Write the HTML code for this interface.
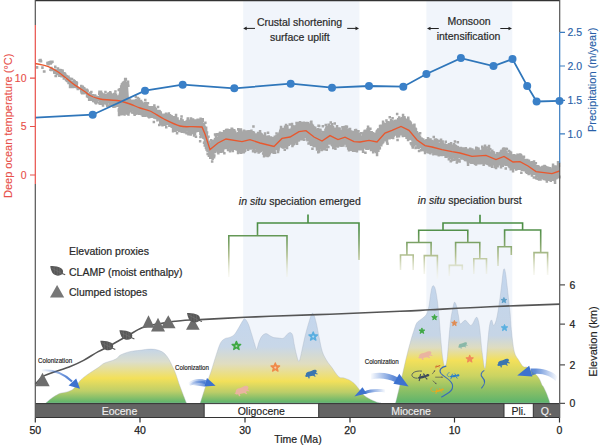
<!DOCTYPE html>
<html><head><meta charset="utf-8">
<style>
html,body{margin:0;padding:0;background:#fff;width:600px;height:447px;overflow:hidden}
svg{display:block}
text{font-family:"Liberation Sans",sans-serif}
</style></head><body>
<svg width="600" height="447" viewBox="0 0 600 447">
<defs>
<linearGradient id="gm1" x1="0" y1="348" x2="0" y2="403" gradientUnits="userSpaceOnUse">
<stop offset="0" stop-color="#c2d4ea"/><stop offset="0.25" stop-color="#dcdecc"/><stop offset="0.55" stop-color="#f3e05a"/><stop offset="0.78" stop-color="#bfcf68"/><stop offset="1" stop-color="#5cb36c"/>
</linearGradient>
<linearGradient id="gm2" x1="0" y1="312" x2="0" y2="403" gradientUnits="userSpaceOnUse">
<stop offset="0" stop-color="#c3d6ee"/><stop offset="0.38" stop-color="#c8d7e8"/><stop offset="0.57" stop-color="#e0ddc0"/><stop offset="0.76" stop-color="#f3e05a"/><stop offset="0.88" stop-color="#bccd68"/><stop offset="1" stop-color="#5cb36c"/>
</linearGradient>
<linearGradient id="gm3" x1="0" y1="268" x2="0" y2="403" gradientUnits="userSpaceOnUse">
<stop offset="0" stop-color="#c3d6ee"/><stop offset="0.5" stop-color="#c6d5e6"/><stop offset="0.59" stop-color="#dedcc0"/><stop offset="0.685" stop-color="#f3e05a"/><stop offset="0.8" stop-color="#cad362"/><stop offset="0.89" stop-color="#94c264"/><stop offset="1" stop-color="#5cb36c"/>
</linearGradient>
<linearGradient id="gd" x1="0" y1="214" x2="0" y2="278" gradientUnits="userSpaceOnUse">
<stop offset="0" stop-color="#3f8a3a"/><stop offset="0.25" stop-color="#52904a"/><stop offset="0.45" stop-color="#7ca266"/><stop offset="0.66" stop-color="#b6c294"/><stop offset="1" stop-color="#f4f2e4" stop-opacity="0.3"/>
</linearGradient>
<g id="leaf"><path d="M0 0C3 -0.4 8 0.2 11 2C13.4 3.5 13.4 6.8 11.5 8.4C9 10.1 5 9.6 3 7.6C1.5 6 0.5 3 0 0Z" fill="#575757"/><path d="M11.2 7L15 8.6" stroke="#575757" stroke-width="1.1"/><path d="M1.2 1.8L11.5 7.2M4 1L4.2 7.6M6.8 1.1L7.2 9M9.4 1.8L9.8 8.8" stroke="#7a7a7a" stroke-width="0.45" fill="none"/></g>
<path id="star" d="M0-4.4L1.2-1.5 4.3-1.3 1.9 0.8 2.7 3.8 0 2.1-2.7 3.8-1.9 0.8-4.3-1.3-1.2-1.5Z" stroke-linejoin="round" stroke-width="1.3"/>
<path id="frog" d="M1 4.5C1.5 3 3 2 5 2L7 1.2C8.5 0.2 10.5 0 11.5 0.8C12.3 1.5 12 2.8 11 3.3L13 4.3 12.6 5 10.5 4.6 9.8 5.6 11 6.8 10.2 7.3 8.4 6.2 6.5 6.6 4.6 7 5 8.8 3.8 9 3.2 7.2 1.5 7.5 0 6.5 1.2 5.6Z"/>
<linearGradient id="ga1" x1="41" y1="0" x2="80" y2="0" gradientUnits="userSpaceOnUse"><stop offset="0" stop-color="#3d72cf" stop-opacity="0"/><stop offset="0.6" stop-color="#3d72cf" stop-opacity="0.8"/><stop offset="1" stop-color="#3d72cf"/></linearGradient>
<linearGradient id="ga2" x1="188" y1="0" x2="216" y2="0" gradientUnits="userSpaceOnUse"><stop offset="0" stop-color="#3d72cf" stop-opacity="0"/><stop offset="0.7" stop-color="#3d72cf" stop-opacity="0.85"/><stop offset="1" stop-color="#3d72cf"/></linearGradient>
<linearGradient id="ga3" x1="370" y1="0" x2="409" y2="0" gradientUnits="userSpaceOnUse"><stop offset="0" stop-color="#3d72cf" stop-opacity="0"/><stop offset="0.6" stop-color="#3d72cf" stop-opacity="0.8"/><stop offset="1" stop-color="#3d72cf"/></linearGradient>
<linearGradient id="ga4" x1="386" y1="0" x2="354" y2="0" gradientUnits="userSpaceOnUse"><stop offset="0" stop-color="#3d72cf" stop-opacity="0"/><stop offset="0.6" stop-color="#3d72cf" stop-opacity="0.85"/><stop offset="1" stop-color="#3d72cf"/></linearGradient>
<linearGradient id="ga5" x1="558" y1="0" x2="517" y2="0" gradientUnits="userSpaceOnUse"><stop offset="0" stop-color="#3d72cf" stop-opacity="0"/><stop offset="0.55" stop-color="#3d72cf" stop-opacity="0.8"/><stop offset="1" stop-color="#3d72cf"/></linearGradient>
<g id="liz"><path d="M0 0C2 -1.2 6 -1.6 9 -1.1L10.8 -1.9C12.4 -2 13.2 -0.9 12.6 0C11.8 0.9 10.2 0.9 9 0.7C6 1.6 2 1.5 0 0Z" stroke="none"/><path d="M3 0.6L1.4 3.2M3 -0.6L4.4 -3.2M8.3 0.8L9.8 3.4M8.3 -0.9L7.2 -3.2" fill="none" stroke-width="1.1"/></g>
</defs>

<!-- shaded bands -->
<rect x="243.2" y="0" width="116.2" height="404" fill="#f1f5fb"/>
<rect x="426.4" y="0" width="85.9" height="404" fill="#f1f5fb"/>

<!-- temperature data -->
<path d="M99.0 92.3 100.0 92.1 101.0 92.2 102.0 93.4 103.0 94.2 104.0 94.6 105.0 94.1 106.0 94.5 107.0 93.6 108.0 93.3 109.0 92.1 110.0 91.8 111.0 93.3 112.0 93.8 113.0 94.5 114.0 93.9 115.0 93.8 116.0 94.9 117.0 96.1 118.0 96.4 119.0 92.2 120.0 89.3 121.0 88.3 122.0 84.0 123.0 83.3 124.0 80.9 125.0 79.1 126.0 79.4 127.0 83.5 128.0 83.7 129.0 99.6 130.0 100.5 131.0 101.1 132.0 101.1 133.0 101.9 134.0 101.6 135.0 101.2 136.0 102.0 137.0 102.5 138.0 101.9 139.0 103.2 140.0 104.1 141.0 104.1 142.0 105.1 143.0 105.2 144.0 104.5 145.0 104.9 146.0 105.0 147.0 104.9 148.0 104.9 149.0 105.8 150.0 106.9 151.0 108.0 152.0 108.7 153.0 109.1 154.0 110.2 155.0 110.8 156.0 111.6 157.0 111.4 158.0 112.0 159.0 112.5 160.0 112.2 161.0 112.9 162.0 114.1 163.0 114.6 164.0 114.5 165.0 115.7 166.0 115.8 167.0 116.1 168.0 116.4 169.0 116.3 170.0 117.3 171.0 118.2 172.0 118.4 173.0 119.0 174.0 118.8 175.0 118.7 176.0 119.0 177.0 120.2 178.0 120.9 179.0 122.0 180.0 122.5 181.0 121.5 182.0 120.9 183.0 120.6 184.0 121.5 185.0 122.2 186.0 121.9 187.0 121.4 188.0 121.4 189.0 122.4 190.0 121.7 191.0 121.5 192.0 122.3 193.0 122.6 194.0 121.7 195.0 122.2 196.0 121.9 197.0 122.7 198.0 122.0 199.0 122.8 200.0 119.3 201.0 120.2 202.0 121.3 203.0 122.0 204.0 124.6 205.0 127.3 206.0 129.6 207.0 133.7 208.0 137.5 209.0 141.0 210.0 144.6 211.0 143.5 212.0 141.9 213.0 141.1 214.0 140.0 215.0 137.5 216.0 136.8 217.0 137.2 218.0 136.7 219.0 134.9 220.0 134.6 221.0 133.7 222.0 134.1 223.0 133.8 224.0 132.0 225.0 131.3 226.0 129.7 227.0 130.1 228.0 130.6 229.0 131.1 230.0 131.5 231.0 131.1 232.0 130.3 233.0 131.0 234.0 130.7 235.0 132.4 236.0 133.7 237.0 134.5 238.0 133.2 239.0 134.1 240.0 133.4 241.0 132.5 242.0 133.7 243.0 133.7 244.0 131.9 245.0 133.0 246.0 132.6 247.0 133.1 248.0 131.9 249.0 131.6 250.0 132.7 251.0 132.2 252.0 133.6 253.0 132.6 254.0 133.9 255.0 135.1 256.0 135.3 257.0 135.1 258.0 134.1 259.0 135.4 260.0 135.2 261.0 136.4 262.0 135.7 263.0 136.9 264.0 136.3 265.0 137.5 266.0 138.3 267.0 137.9 268.0 137.5 269.0 138.1 270.0 137.9 271.0 138.9 272.0 139.8 273.0 139.8 274.0 138.6 275.0 137.5 276.0 136.8 277.0 136.3 278.0 134.3 279.0 134.1 280.0 131.6 281.0 130.0 282.0 129.6 283.0 130.0 284.0 129.4 285.0 129.8 286.0 129.1 287.0 129.4 288.0 130.4 289.0 130.9 290.0 130.7 291.0 130.5 292.0 128.0 293.0 127.9 294.0 127.5 295.0 127.4 296.0 126.8 297.0 124.4 298.0 124.6 299.0 124.3 300.0 125.2 301.0 124.4 302.0 124.6 303.0 125.1 304.0 125.2 305.0 125.3 306.0 124.6 307.0 124.3 308.0 124.1 309.0 124.3 310.0 125.6 311.0 125.2 312.0 125.9 313.0 128.5 314.0 128.1 315.0 128.3 316.0 130.2 317.0 130.6 318.0 130.2 319.0 130.7 320.0 131.0 321.0 132.6 322.0 134.0 323.0 133.9 324.0 132.4 325.0 131.1 326.0 130.3 327.0 128.8 328.0 128.4 329.0 127.5 330.0 126.5 331.0 128.5 332.0 128.2 333.0 128.2 334.0 129.0 335.0 129.8 336.0 129.7 337.0 130.1 338.0 131.9 339.0 130.8 340.0 130.4 341.0 131.4 342.0 130.2 343.0 129.4 344.0 129.2 345.0 129.0 346.0 128.5 347.0 128.1 348.0 130.7 349.0 130.3 350.0 131.2 351.0 132.6 352.0 133.6 353.0 134.6 354.0 133.3 355.0 132.6 356.0 132.0 357.0 133.4 358.0 133.6 359.0 135.1 360.0 134.8 361.0 135.2 362.0 134.9 363.0 135.5 364.0 133.6 365.0 132.1 366.0 131.2 367.0 132.0 368.0 130.8 369.0 131.6 370.0 132.7 371.0 133.9 372.0 134.2 373.0 134.5 374.0 134.1 375.0 134.3 376.0 133.2 377.0 133.2 378.0 131.2 379.0 130.1 380.0 129.0 381.0 127.8 382.0 127.9 383.0 125.8 384.0 125.3 385.0 125.0 386.0 123.3 387.0 123.0 388.0 122.9 389.0 123.8 390.0 124.0 391.0 123.3 392.0 121.6 393.0 121.6 394.0 122.1 395.0 121.8 396.0 121.7 397.0 120.6 398.0 119.3 399.0 119.2 400.0 119.1 401.0 119.7 402.0 118.4 403.0 119.0 404.0 118.7 405.0 120.2 406.0 121.0 407.0 120.2 408.0 120.2 409.0 122.6 410.0 122.6 411.0 123.9 412.0 125.7 413.0 126.1 414.0 126.5 415.0 129.4 416.0 130.6 417.0 134.2 418.0 135.0 419.0 136.1 420.0 137.7 421.0 138.7 422.0 138.8 423.0 140.0 424.0 140.2 425.0 141.5 426.0 141.3 427.0 141.5 428.0 141.3 429.0 141.8 430.0 141.1 431.0 140.8 432.0 141.9 433.0 141.4 434.0 142.4 435.0 142.7 436.0 143.2 437.0 143.1 438.0 143.9 439.0 144.3 440.0 144.1 441.0 143.8 442.0 144.3 443.0 143.8 444.0 143.9 445.0 145.0 446.0 145.7 447.0 145.8 448.0 146.4 449.0 146.1 450.0 146.9 451.0 147.3 452.0 147.8 453.0 148.3 454.0 147.2 455.0 146.9 456.0 146.4 457.0 147.5 458.0 147.3 459.0 147.3 460.0 147.9 461.0 148.8 462.0 149.3 463.0 148.5 464.0 148.1 465.0 149.1 466.0 149.0 467.0 150.3 468.0 150.7 469.0 151.4 470.0 150.3 471.0 150.8 472.0 150.6 473.0 151.6 474.0 150.5 475.0 150.1 476.0 150.7 477.0 149.8 478.0 150.5 479.0 150.9 480.0 151.7 481.0 150.3 482.0 149.4 483.0 150.3 484.0 149.3 485.0 149.8 486.0 150.0 487.0 149.6 488.0 149.8 489.0 150.1 490.0 150.8 491.0 152.0 492.0 151.9 493.0 153.2 494.0 154.1 495.0 155.2 496.0 155.4 497.0 153.8 498.0 153.9 499.0 154.1 500.0 152.9 501.0 152.9 502.0 152.1 503.0 151.1 504.0 150.5 505.0 150.7 506.0 151.6 507.0 152.1 508.0 153.5 509.0 154.9 510.0 155.1 511.0 155.8 512.0 156.3 513.0 156.2 514.0 155.4 515.0 155.9 516.0 155.4 517.0 156.7 518.0 157.3 519.0 156.0 520.0 155.2 521.0 155.5 522.0 157.1 523.0 156.9 524.0 157.7 525.0 159.1 526.0 160.3 527.0 161.1 528.0 161.0 529.0 162.5 530.0 162.5 531.0 163.4 532.0 163.4 533.0 165.0 534.0 165.6 535.0 165.8 536.0 167.1 537.0 167.1 538.0 167.3 539.0 167.5 540.0 167.6 541.0 166.8 542.0 167.3 543.0 166.9 544.0 168.1 545.0 168.1 546.0 168.2 547.0 168.1 548.0 169.0 549.0 168.4 550.0 169.1 551.0 169.1 552.0 169.5 553.0 168.7 554.0 168.8 555.0 167.5 556.0 167.6 557.0 166.3 558.0 166.1 559.0 165.1 L559.0 176.0 558.0 176.4 557.0 177.9 556.0 177.4 555.0 178.9 554.0 178.5 553.0 179.2 552.0 178.7 551.0 179.1 550.0 179.3 549.0 179.3 548.0 178.5 547.0 178.3 546.0 179.2 545.0 178.8 544.0 178.2 543.0 177.2 542.0 177.6 541.0 178.4 540.0 177.4 539.0 177.6 538.0 177.5 537.0 176.4 536.0 176.5 535.0 175.0 534.0 174.8 533.0 173.6 532.0 173.4 531.0 172.2 530.0 171.6 529.0 171.8 528.0 171.2 527.0 171.1 526.0 170.0 525.0 169.9 524.0 169.6 523.0 168.6 522.0 169.0 521.0 167.7 520.0 167.2 519.0 167.4 518.0 167.1 517.0 167.8 516.0 168.7 515.0 168.0 514.0 167.2 513.0 168.2 512.0 167.2 511.0 167.5 510.0 165.8 509.0 165.5 508.0 163.7 507.0 163.2 506.0 163.0 505.0 162.4 504.0 162.0 503.0 163.5 502.0 163.3 501.0 163.3 500.0 163.8 499.0 164.3 498.0 164.7 497.0 166.5 496.0 166.2 495.0 164.6 494.0 163.7 493.0 164.1 492.0 162.8 491.0 163.1 490.0 163.0 489.0 163.1 488.0 162.2 487.0 161.1 486.0 161.2 485.0 161.3 484.0 162.1 483.0 161.1 482.0 160.9 481.0 162.1 480.0 162.1 479.0 161.6 478.0 162.3 477.0 161.9 476.0 161.6 475.0 162.1 474.0 160.9 473.0 160.9 472.0 161.5 471.0 162.1 470.0 160.9 469.0 160.6 468.0 160.8 467.0 159.8 466.0 159.4 465.0 159.2 464.0 157.8 463.0 157.6 462.0 157.6 461.0 157.1 460.0 157.5 459.0 157.4 458.0 157.4 457.0 158.4 456.0 157.7 455.0 158.2 454.0 157.4 453.0 156.4 452.0 156.4 451.0 157.3 450.0 156.4 449.0 156.6 448.0 155.6 447.0 155.5 446.0 156.1 445.0 155.1 444.0 154.1 443.0 154.1 442.0 154.0 441.0 154.2 440.0 153.2 439.0 153.3 438.0 153.0 437.0 153.7 436.0 152.5 435.0 152.6 434.0 151.7 433.0 152.2 432.0 151.4 431.0 151.6 430.0 151.3 429.0 150.6 428.0 149.9 427.0 150.3 426.0 150.5 425.0 149.9 424.0 150.1 423.0 149.0 422.0 148.8 421.0 149.0 420.0 147.8 419.0 146.9 418.0 146.3 417.0 145.3 416.0 145.8 415.0 143.8 414.0 143.5 413.0 143.4 412.0 141.4 411.0 138.5 410.0 138.6 409.0 137.4 408.0 135.9 407.0 136.9 406.0 135.1 405.0 134.2 404.0 133.9 403.0 133.9 402.0 132.5 401.0 132.6 400.0 133.5 399.0 134.3 398.0 134.6 397.0 135.2 396.0 134.0 395.0 134.3 394.0 135.3 393.0 136.7 392.0 138.5 391.0 137.3 390.0 138.5 389.0 137.2 388.0 138.1 387.0 138.4 386.0 139.0 385.0 139.9 384.0 139.8 383.0 140.7 382.0 142.4 381.0 144.7 380.0 145.3 379.0 146.4 378.0 149.2 377.0 151.0 376.0 150.2 375.0 149.5 374.0 147.7 373.0 148.4 372.0 149.3 371.0 148.0 370.0 146.4 369.0 147.3 368.0 147.6 367.0 147.3 366.0 147.6 365.0 148.5 364.0 147.9 363.0 149.5 362.0 149.1 361.0 148.1 360.0 148.4 359.0 148.7 358.0 148.5 357.0 150.2 356.0 149.2 355.0 148.4 354.0 148.1 353.0 148.9 352.0 148.7 351.0 148.5 350.0 146.9 349.0 147.5 348.0 145.8 347.0 145.5 346.0 143.2 345.0 142.9 344.0 144.0 343.0 144.1 342.0 144.7 341.0 143.8 340.0 144.0 339.0 145.2 338.0 145.6 337.0 145.4 336.0 146.3 335.0 145.6 334.0 144.6 333.0 144.5 332.0 142.1 331.0 141.8 330.0 141.4 329.0 142.3 328.0 144.3 327.0 144.9 326.0 144.6 325.0 147.0 324.0 147.5 323.0 148.0 322.0 147.6 321.0 147.4 320.0 148.9 319.0 148.7 318.0 147.8 317.0 147.0 316.0 146.0 315.0 145.9 314.0 144.9 313.0 144.1 312.0 142.4 311.0 140.8 310.0 141.0 309.0 141.0 308.0 139.2 307.0 137.6 306.0 136.0 305.0 136.2 304.0 137.4 303.0 137.5 302.0 138.3 301.0 138.5 300.0 138.6 299.0 139.3 298.0 141.0 297.0 140.7 296.0 141.5 295.0 140.8 294.0 141.4 293.0 142.0 292.0 143.6 291.0 143.9 290.0 143.3 289.0 144.5 288.0 143.7 287.0 145.0 286.0 146.2 285.0 146.7 284.0 146.5 283.0 145.5 282.0 145.7 281.0 145.3 280.0 145.9 279.0 147.6 278.0 148.0 277.0 147.8 276.0 149.2 275.0 150.8 274.0 152.1 273.0 151.8 272.0 151.4 271.0 151.4 270.0 151.8 269.0 152.3 268.0 153.6 267.0 152.6 266.0 153.6 265.0 153.1 264.0 152.4 263.0 151.7 262.0 150.1 261.0 149.9 260.0 151.3 259.0 150.8 258.0 149.3 257.0 149.9 256.0 148.4 255.0 149.4 254.0 148.5 253.0 149.5 252.0 148.3 251.0 146.4 250.0 145.6 249.0 145.9 248.0 145.6 247.0 147.0 246.0 147.7 245.0 148.7 244.0 149.7 243.0 149.5 242.0 150.6 241.0 149.6 240.0 148.1 239.0 149.4 238.0 149.1 237.0 147.9 236.0 146.9 235.0 147.4 234.0 147.3 233.0 148.7 232.0 147.6 231.0 148.8 230.0 148.2 229.0 147.0 228.0 147.0 227.0 146.4 226.0 146.3 225.0 147.2 224.0 147.0 223.0 147.4 222.0 148.8 221.0 149.4 220.0 149.2 219.0 149.7 218.0 150.1 217.0 151.0 216.0 150.6 215.0 152.0 214.0 156.1 213.0 157.6 212.0 157.9 211.0 157.8 210.0 159.2 209.0 154.9 208.0 151.9 207.0 148.4 206.0 145.9 205.0 144.2 204.0 141.4 203.0 137.8 202.0 134.8 201.0 136.3 200.0 136.6 199.0 131.9 198.0 131.4 197.0 130.7 196.0 131.2 195.0 132.0 194.0 131.5 193.0 131.9 192.0 131.7 191.0 131.4 190.0 131.7 189.0 131.4 188.0 131.3 187.0 130.9 186.0 130.9 185.0 130.0 184.0 130.3 183.0 130.8 182.0 131.2 181.0 130.3 180.0 130.4 179.0 129.4 178.0 129.1 177.0 129.7 176.0 129.6 175.0 129.1 174.0 128.5 173.0 127.3 172.0 127.6 171.0 126.9 170.0 126.0 169.0 126.0 168.0 125.3 167.0 123.7 166.0 123.8 165.0 124.0 164.0 122.5 163.0 122.1 162.0 121.7 161.0 121.8 160.0 121.3 159.0 119.6 158.0 119.4 157.0 118.9 156.0 118.8 155.0 117.3 154.0 116.4 153.0 115.9 152.0 115.7 151.0 115.5 150.0 115.7 149.0 115.3 148.0 115.3 147.0 114.6 146.0 113.7 145.0 114.2 144.0 113.8 143.0 113.1 142.0 112.6 141.0 112.2 140.0 112.1 139.0 112.8 138.0 112.9 137.0 113.5 136.0 112.6 135.0 112.9 134.0 112.1 133.0 111.1 132.0 111.0 131.0 109.9 130.0 110.1 129.0 109.3 128.0 112.4 127.0 111.9 126.0 113.1 125.0 113.8 124.0 112.8 123.0 112.7 122.0 112.5 121.0 111.4 120.0 113.6 119.0 113.1 118.0 105.3 117.0 104.8 116.0 102.1 115.0 103.5 114.0 103.9 113.0 103.9 112.0 103.7 111.0 102.9 110.0 103.0 109.0 103.0 108.0 103.5 107.0 103.7 106.0 102.8 105.0 103.1 104.0 102.3 103.0 102.6 102.0 102.4 101.0 102.0 100.0 101.8 99.0 101.8ZM98.2 90.5h2.5v2.5h-2.5zM97.4 98.9h2.5v2.5h-2.5zM98.0 92.5h2.5v2.5h-2.5zM98.1 101.9h2.5v2.5h-2.5zM98.5 90.8h2.5v2.5h-2.5zM98.6 101.5h2.5v2.5h-2.5zM98.4 92.1h2.5v2.5h-2.5zM99.1 102.6h2.5v2.5h-2.5zM100.0 94.5h2.5v2.5h-2.5zM99.4 101.4h2.5v2.5h-2.5zM99.8 90.4h2.5v2.5h-2.5zM99.6 100.2h2.5v2.5h-2.5zM100.7 92.5h2.5v2.5h-2.5zM100.7 100.0h2.5v2.5h-2.5zM100.3 92.2h2.5v2.5h-2.5zM100.5 100.1h2.5v2.5h-2.5zM101.7 94.8h2.5v2.5h-2.5zM101.4 102.7h2.5v2.5h-2.5zM101.4 93.6h2.5v2.5h-2.5zM101.7 101.6h2.5v2.5h-2.5zM101.8 101.3h2.5v2.5h-2.5zM101.8 102.3h2.5v2.5h-2.5zM101.8 103.3h2.5v2.5h-2.5zM101.8 104.3h2.5v2.5h-2.5zM102.3 94.3h2.5v2.5h-2.5zM102.8 98.8h2.5v2.5h-2.5zM102.3 93.3h2.5v2.5h-2.5zM103.2 101.0h2.5v2.5h-2.5zM104.2 93.8h2.5v2.5h-2.5zM103.4 99.5h2.5v2.5h-2.5zM104.2 90.8h2.5v2.5h-2.5zM104.2 102.0h2.5v2.5h-2.5zM105.2 95.6h2.5v2.5h-2.5zM105.0 102.1h2.5v2.5h-2.5zM104.4 95.3h2.5v2.5h-2.5zM105.1 101.0h2.5v2.5h-2.5zM106.2 93.9h2.5v2.5h-2.5zM105.8 103.4h2.5v2.5h-2.5zM105.6 94.4h2.5v2.5h-2.5zM105.4 102.6h2.5v2.5h-2.5zM107.1 94.3h2.5v2.5h-2.5zM106.4 104.2h2.5v2.5h-2.5zM106.8 92.4h2.5v2.5h-2.5zM107.1 101.3h2.5v2.5h-2.5zM108.1 95.3h2.5v2.5h-2.5zM107.9 104.2h2.5v2.5h-2.5zM107.6 92.4h2.5v2.5h-2.5zM108.2 100.8h2.5v2.5h-2.5zM109.0 91.0h2.5v2.5h-2.5zM109.0 102.1h2.5v2.5h-2.5zM108.3 92.1h2.5v2.5h-2.5zM108.9 100.9h2.5v2.5h-2.5zM109.9 93.2h2.5v2.5h-2.5zM109.3 101.7h2.5v2.5h-2.5zM109.4 92.2h2.5v2.5h-2.5zM109.8 100.7h2.5v2.5h-2.5zM110.5 93.6h2.5v2.5h-2.5zM110.3 102.2h2.5v2.5h-2.5zM110.6 94.8h2.5v2.5h-2.5zM110.5 103.2h2.5v2.5h-2.5zM111.5 93.4h2.5v2.5h-2.5zM111.4 101.7h2.5v2.5h-2.5zM112.2 94.5h2.5v2.5h-2.5zM111.3 103.4h2.5v2.5h-2.5zM113.0 93.0h2.5v2.5h-2.5zM112.3 103.2h2.5v2.5h-2.5zM112.9 92.7h2.5v2.5h-2.5zM112.9 102.2h2.5v2.5h-2.5zM114.0 93.7h2.5v2.5h-2.5zM113.3 105.0h2.5v2.5h-2.5zM113.8 92.9h2.5v2.5h-2.5zM113.3 102.8h2.5v2.5h-2.5zM113.8 102.2h2.5v2.5h-2.5zM113.8 103.2h2.5v2.5h-2.5zM113.8 104.2h2.5v2.5h-2.5zM113.8 105.2h2.5v2.5h-2.5zM115.2 95.4h2.5v2.5h-2.5zM114.9 101.5h2.5v2.5h-2.5zM114.8 93.4h2.5v2.5h-2.5zM114.4 99.0h2.5v2.5h-2.5zM115.3 96.6h2.5v2.5h-2.5zM116.0 102.1h2.5v2.5h-2.5zM115.3 96.0h2.5v2.5h-2.5zM115.7 101.7h2.5v2.5h-2.5zM116.5 95.9h2.5v2.5h-2.5zM116.3 104.6h2.5v2.5h-2.5zM116.6 95.2h2.5v2.5h-2.5zM117.1 102.1h2.5v2.5h-2.5zM117.8 88.8h2.5v2.5h-2.5zM117.8 112.7h2.5v2.5h-2.5zM117.5 88.8h2.5v2.5h-2.5zM117.5 109.2h2.5v2.5h-2.5zM117.8 111.8h2.5v2.5h-2.5zM117.8 112.8h2.5v2.5h-2.5zM117.8 113.8h2.5v2.5h-2.5zM118.5 87.9h2.5v2.5h-2.5zM119.0 109.2h2.5v2.5h-2.5zM118.6 88.9h2.5v2.5h-2.5zM118.5 111.6h2.5v2.5h-2.5zM119.9 85.2h2.5v2.5h-2.5zM119.7 107.0h2.5v2.5h-2.5zM120.1 86.2h2.5v2.5h-2.5zM119.7 107.7h2.5v2.5h-2.5zM120.6 83.2h2.5v2.5h-2.5zM120.3 113.0h2.5v2.5h-2.5zM121.2 82.9h2.5v2.5h-2.5zM120.4 111.5h2.5v2.5h-2.5zM121.4 82.4h2.5v2.5h-2.5zM121.9 111.5h2.5v2.5h-2.5zM121.9 81.4h2.5v2.5h-2.5zM121.3 109.5h2.5v2.5h-2.5zM123.1 80.8h2.5v2.5h-2.5zM122.3 109.1h2.5v2.5h-2.5zM123.1 82.4h2.5v2.5h-2.5zM122.4 109.9h2.5v2.5h-2.5zM122.8 111.5h2.5v2.5h-2.5zM122.8 112.5h2.5v2.5h-2.5zM124.1 78.6h2.5v2.5h-2.5zM124.1 110.9h2.5v2.5h-2.5zM123.9 77.7h2.5v2.5h-2.5zM123.3 113.2h2.5v2.5h-2.5zM124.6 77.9h2.5v2.5h-2.5zM124.5 112.0h2.5v2.5h-2.5zM124.5 77.8h2.5v2.5h-2.5zM124.6 110.6h2.5v2.5h-2.5zM126.1 82.0h2.5v2.5h-2.5zM125.7 110.4h2.5v2.5h-2.5zM125.7 82.4h2.5v2.5h-2.5zM126.0 109.4h2.5v2.5h-2.5zM127.1 84.4h2.5v2.5h-2.5zM126.4 112.4h2.5v2.5h-2.5zM126.3 83.1h2.5v2.5h-2.5zM127.2 113.2h2.5v2.5h-2.5zM126.8 82.4h2.5v2.5h-2.5zM126.8 81.4h2.5v2.5h-2.5zM126.8 80.4h2.5v2.5h-2.5zM128.0 99.0h2.5v2.5h-2.5zM127.6 109.4h2.5v2.5h-2.5zM128.1 98.2h2.5v2.5h-2.5zM127.5 111.1h2.5v2.5h-2.5zM128.7 100.6h2.5v2.5h-2.5zM128.3 110.0h2.5v2.5h-2.5zM129.0 98.5h2.5v2.5h-2.5zM128.9 106.7h2.5v2.5h-2.5zM129.6 100.3h2.5v2.5h-2.5zM130.1 108.3h2.5v2.5h-2.5zM129.3 100.1h2.5v2.5h-2.5zM130.2 109.6h2.5v2.5h-2.5zM131.1 100.0h2.5v2.5h-2.5zM130.8 111.2h2.5v2.5h-2.5zM131.0 99.9h2.5v2.5h-2.5zM130.6 107.9h2.5v2.5h-2.5zM132.1 99.5h2.5v2.5h-2.5zM131.4 108.1h2.5v2.5h-2.5zM131.7 100.9h2.5v2.5h-2.5zM131.4 108.2h2.5v2.5h-2.5zM132.5 100.8h2.5v2.5h-2.5zM133.0 111.9h2.5v2.5h-2.5zM133.1 100.8h2.5v2.5h-2.5zM132.5 111.5h2.5v2.5h-2.5zM133.4 99.5h2.5v2.5h-2.5zM134.2 112.4h2.5v2.5h-2.5zM134.0 102.6h2.5v2.5h-2.5zM133.4 113.6h2.5v2.5h-2.5zM135.0 100.6h2.5v2.5h-2.5zM134.4 110.0h2.5v2.5h-2.5zM134.9 101.5h2.5v2.5h-2.5zM134.6 111.9h2.5v2.5h-2.5zM134.8 100.8h2.5v2.5h-2.5zM134.8 99.8h2.5v2.5h-2.5zM134.8 98.8h2.5v2.5h-2.5zM135.9 99.5h2.5v2.5h-2.5zM135.7 112.3h2.5v2.5h-2.5zM135.4 100.2h2.5v2.5h-2.5zM136.0 111.5h2.5v2.5h-2.5zM136.8 100.7h2.5v2.5h-2.5zM136.5 110.3h2.5v2.5h-2.5zM137.0 102.3h2.5v2.5h-2.5zM137.0 110.1h2.5v2.5h-2.5zM137.9 100.8h2.5v2.5h-2.5zM137.9 111.9h2.5v2.5h-2.5zM137.3 99.9h2.5v2.5h-2.5zM138.0 112.6h2.5v2.5h-2.5zM138.7 101.1h2.5v2.5h-2.5zM138.7 111.4h2.5v2.5h-2.5zM138.9 103.6h2.5v2.5h-2.5zM138.9 110.5h2.5v2.5h-2.5zM139.7 103.2h2.5v2.5h-2.5zM139.8 110.9h2.5v2.5h-2.5zM139.4 103.4h2.5v2.5h-2.5zM139.8 107.9h2.5v2.5h-2.5zM139.8 102.8h2.5v2.5h-2.5zM139.8 101.8h2.5v2.5h-2.5zM139.8 100.8h2.5v2.5h-2.5zM139.8 99.8h2.5v2.5h-2.5zM141.0 102.0h2.5v2.5h-2.5zM141.1 111.2h2.5v2.5h-2.5zM140.8 101.2h2.5v2.5h-2.5zM140.5 113.0h2.5v2.5h-2.5zM142.0 106.7h2.5v2.5h-2.5zM141.6 114.5h2.5v2.5h-2.5zM141.3 103.8h2.5v2.5h-2.5zM141.3 113.2h2.5v2.5h-2.5zM142.9 102.7h2.5v2.5h-2.5zM142.5 113.4h2.5v2.5h-2.5zM143.0 104.8h2.5v2.5h-2.5zM142.5 112.0h2.5v2.5h-2.5zM143.5 105.2h2.5v2.5h-2.5zM144.1 114.6h2.5v2.5h-2.5zM143.9 102.0h2.5v2.5h-2.5zM143.5 113.3h2.5v2.5h-2.5zM144.9 104.8h2.5v2.5h-2.5zM144.7 110.3h2.5v2.5h-2.5zM144.5 103.1h2.5v2.5h-2.5zM145.1 112.2h2.5v2.5h-2.5zM145.5 102.9h2.5v2.5h-2.5zM145.7 114.1h2.5v2.5h-2.5zM145.4 105.7h2.5v2.5h-2.5zM145.5 113.4h2.5v2.5h-2.5zM146.7 102.0h2.5v2.5h-2.5zM146.9 114.9h2.5v2.5h-2.5zM146.6 106.0h2.5v2.5h-2.5zM146.3 113.0h2.5v2.5h-2.5zM148.0 106.1h2.5v2.5h-2.5zM147.9 115.9h2.5v2.5h-2.5zM147.3 107.8h2.5v2.5h-2.5zM147.9 114.2h2.5v2.5h-2.5zM147.8 114.0h2.5v2.5h-2.5zM147.8 115.0h2.5v2.5h-2.5zM148.5 105.9h2.5v2.5h-2.5zM148.4 113.3h2.5v2.5h-2.5zM149.2 105.9h2.5v2.5h-2.5zM149.1 113.7h2.5v2.5h-2.5zM149.9 108.6h2.5v2.5h-2.5zM150.1 112.8h2.5v2.5h-2.5zM149.4 106.2h2.5v2.5h-2.5zM150.0 112.7h2.5v2.5h-2.5zM150.8 107.4h2.5v2.5h-2.5zM150.4 115.4h2.5v2.5h-2.5zM150.7 108.8h2.5v2.5h-2.5zM150.4 115.0h2.5v2.5h-2.5zM151.8 108.0h2.5v2.5h-2.5zM152.1 114.6h2.5v2.5h-2.5zM151.7 106.1h2.5v2.5h-2.5zM152.1 114.0h2.5v2.5h-2.5zM153.2 110.5h2.5v2.5h-2.5zM152.9 116.0h2.5v2.5h-2.5zM152.3 107.4h2.5v2.5h-2.5zM153.2 113.9h2.5v2.5h-2.5zM153.8 106.8h2.5v2.5h-2.5zM153.3 116.3h2.5v2.5h-2.5zM154.0 108.7h2.5v2.5h-2.5zM154.1 115.2h2.5v2.5h-2.5zM154.8 110.4h2.5v2.5h-2.5zM154.7 116.7h2.5v2.5h-2.5zM154.7 108.0h2.5v2.5h-2.5zM154.5 116.8h2.5v2.5h-2.5zM155.8 109.9h2.5v2.5h-2.5zM156.2 119.1h2.5v2.5h-2.5zM155.9 110.4h2.5v2.5h-2.5zM155.6 116.5h2.5v2.5h-2.5zM156.9 110.8h2.5v2.5h-2.5zM157.0 117.8h2.5v2.5h-2.5zM157.1 110.4h2.5v2.5h-2.5zM156.6 118.0h2.5v2.5h-2.5zM156.8 110.8h2.5v2.5h-2.5zM156.8 109.8h2.5v2.5h-2.5zM157.9 110.0h2.5v2.5h-2.5zM158.2 116.5h2.5v2.5h-2.5zM157.9 109.8h2.5v2.5h-2.5zM157.9 117.2h2.5v2.5h-2.5zM158.5 110.2h2.5v2.5h-2.5zM159.0 118.8h2.5v2.5h-2.5zM158.4 111.1h2.5v2.5h-2.5zM159.0 120.4h2.5v2.5h-2.5zM159.6 112.6h2.5v2.5h-2.5zM159.8 118.5h2.5v2.5h-2.5zM159.5 111.2h2.5v2.5h-2.5zM159.6 121.8h2.5v2.5h-2.5zM161.2 114.4h2.5v2.5h-2.5zM160.3 121.0h2.5v2.5h-2.5zM160.4 113.5h2.5v2.5h-2.5zM161.2 118.9h2.5v2.5h-2.5zM160.8 120.5h2.5v2.5h-2.5zM160.8 121.5h2.5v2.5h-2.5zM160.8 122.5h2.5v2.5h-2.5zM161.8 116.8h2.5v2.5h-2.5zM161.7 119.5h2.5v2.5h-2.5zM161.7 114.9h2.5v2.5h-2.5zM161.5 122.0h2.5v2.5h-2.5zM161.8 120.9h2.5v2.5h-2.5zM161.8 121.9h2.5v2.5h-2.5zM162.9 115.7h2.5v2.5h-2.5zM162.3 123.6h2.5v2.5h-2.5zM163.1 113.4h2.5v2.5h-2.5zM163.0 121.4h2.5v2.5h-2.5zM163.4 116.6h2.5v2.5h-2.5zM164.0 123.4h2.5v2.5h-2.5zM164.1 114.4h2.5v2.5h-2.5zM163.9 122.2h2.5v2.5h-2.5zM165.2 114.5h2.5v2.5h-2.5zM165.0 125.9h2.5v2.5h-2.5zM164.3 116.5h2.5v2.5h-2.5zM165.1 122.7h2.5v2.5h-2.5zM164.8 114.6h2.5v2.5h-2.5zM164.8 113.6h2.5v2.5h-2.5zM164.8 112.6h2.5v2.5h-2.5zM165.4 115.8h2.5v2.5h-2.5zM165.3 121.3h2.5v2.5h-2.5zM165.6 113.6h2.5v2.5h-2.5zM165.9 121.8h2.5v2.5h-2.5zM166.6 114.0h2.5v2.5h-2.5zM166.7 122.6h2.5v2.5h-2.5zM166.6 115.8h2.5v2.5h-2.5zM167.0 121.0h2.5v2.5h-2.5zM167.3 117.0h2.5v2.5h-2.5zM168.1 124.4h2.5v2.5h-2.5zM167.6 112.2h2.5v2.5h-2.5zM168.1 122.5h2.5v2.5h-2.5zM168.7 117.0h2.5v2.5h-2.5zM168.9 124.0h2.5v2.5h-2.5zM168.9 117.9h2.5v2.5h-2.5zM168.5 123.4h2.5v2.5h-2.5zM168.8 116.0h2.5v2.5h-2.5zM168.8 115.0h2.5v2.5h-2.5zM168.8 114.0h2.5v2.5h-2.5zM169.8 118.0h2.5v2.5h-2.5zM169.3 123.2h2.5v2.5h-2.5zM170.1 117.9h2.5v2.5h-2.5zM169.8 123.2h2.5v2.5h-2.5zM171.1 116.0h2.5v2.5h-2.5zM170.6 123.7h2.5v2.5h-2.5zM170.3 114.9h2.5v2.5h-2.5zM170.5 125.6h2.5v2.5h-2.5zM171.5 116.2h2.5v2.5h-2.5zM171.7 124.9h2.5v2.5h-2.5zM171.5 117.7h2.5v2.5h-2.5zM172.0 128.2h2.5v2.5h-2.5zM171.8 126.1h2.5v2.5h-2.5zM171.8 127.1h2.5v2.5h-2.5zM171.8 128.1h2.5v2.5h-2.5zM171.8 129.1h2.5v2.5h-2.5zM171.8 130.1h2.5v2.5h-2.5zM173.0 117.7h2.5v2.5h-2.5zM173.1 129.0h2.5v2.5h-2.5zM173.1 116.0h2.5v2.5h-2.5zM172.8 127.1h2.5v2.5h-2.5zM173.4 117.1h2.5v2.5h-2.5zM173.8 126.7h2.5v2.5h-2.5zM173.7 116.8h2.5v2.5h-2.5zM173.3 127.8h2.5v2.5h-2.5zM174.4 116.2h2.5v2.5h-2.5zM174.4 126.6h2.5v2.5h-2.5zM174.8 116.8h2.5v2.5h-2.5zM174.3 129.6h2.5v2.5h-2.5zM174.8 117.7h2.5v2.5h-2.5zM174.8 116.7h2.5v2.5h-2.5zM174.8 115.7h2.5v2.5h-2.5zM174.8 114.7h2.5v2.5h-2.5zM174.8 113.7h2.5v2.5h-2.5zM175.7 118.0h2.5v2.5h-2.5zM176.0 128.0h2.5v2.5h-2.5zM175.7 121.0h2.5v2.5h-2.5zM176.1 127.7h2.5v2.5h-2.5zM176.3 119.9h2.5v2.5h-2.5zM176.3 128.7h2.5v2.5h-2.5zM176.3 117.2h2.5v2.5h-2.5zM176.7 127.0h2.5v2.5h-2.5zM177.3 119.7h2.5v2.5h-2.5zM177.4 127.4h2.5v2.5h-2.5zM178.2 120.7h2.5v2.5h-2.5zM177.9 129.8h2.5v2.5h-2.5zM178.6 120.5h2.5v2.5h-2.5zM179.2 129.4h2.5v2.5h-2.5zM179.2 121.3h2.5v2.5h-2.5zM178.5 129.5h2.5v2.5h-2.5zM180.2 120.4h2.5v2.5h-2.5zM180.0 128.7h2.5v2.5h-2.5zM180.0 117.9h2.5v2.5h-2.5zM179.3 126.1h2.5v2.5h-2.5zM181.2 119.2h2.5v2.5h-2.5zM180.8 129.0h2.5v2.5h-2.5zM181.0 120.6h2.5v2.5h-2.5zM180.5 130.6h2.5v2.5h-2.5zM181.4 119.4h2.5v2.5h-2.5zM181.9 130.2h2.5v2.5h-2.5zM181.3 119.2h2.5v2.5h-2.5zM181.3 128.7h2.5v2.5h-2.5zM183.2 122.1h2.5v2.5h-2.5zM182.4 127.0h2.5v2.5h-2.5zM182.7 122.7h2.5v2.5h-2.5zM183.1 130.8h2.5v2.5h-2.5zM183.6 121.6h2.5v2.5h-2.5zM183.9 127.4h2.5v2.5h-2.5zM183.4 121.0h2.5v2.5h-2.5zM184.0 129.2h2.5v2.5h-2.5zM185.1 120.5h2.5v2.5h-2.5zM184.4 131.0h2.5v2.5h-2.5zM184.5 121.3h2.5v2.5h-2.5zM184.4 128.7h2.5v2.5h-2.5zM186.2 122.9h2.5v2.5h-2.5zM185.3 132.0h2.5v2.5h-2.5zM186.1 119.7h2.5v2.5h-2.5zM185.7 128.8h2.5v2.5h-2.5zM186.5 117.6h2.5v2.5h-2.5zM187.2 133.1h2.5v2.5h-2.5zM187.2 121.1h2.5v2.5h-2.5zM187.1 130.7h2.5v2.5h-2.5zM186.8 120.2h2.5v2.5h-2.5zM186.8 119.2h2.5v2.5h-2.5zM186.8 118.2h2.5v2.5h-2.5zM186.8 117.2h2.5v2.5h-2.5zM188.2 123.5h2.5v2.5h-2.5zM187.6 130.4h2.5v2.5h-2.5zM187.4 123.6h2.5v2.5h-2.5zM187.8 130.2h2.5v2.5h-2.5zM189.2 120.7h2.5v2.5h-2.5zM188.4 132.1h2.5v2.5h-2.5zM188.4 120.7h2.5v2.5h-2.5zM188.4 128.4h2.5v2.5h-2.5zM188.8 120.4h2.5v2.5h-2.5zM188.8 119.4h2.5v2.5h-2.5zM189.7 120.1h2.5v2.5h-2.5zM189.9 131.0h2.5v2.5h-2.5zM190.0 120.9h2.5v2.5h-2.5zM189.5 128.5h2.5v2.5h-2.5zM189.8 120.2h2.5v2.5h-2.5zM189.8 119.2h2.5v2.5h-2.5zM189.8 118.2h2.5v2.5h-2.5zM189.8 117.2h2.5v2.5h-2.5zM191.0 123.3h2.5v2.5h-2.5zM190.6 131.3h2.5v2.5h-2.5zM191.1 122.1h2.5v2.5h-2.5zM190.3 129.3h2.5v2.5h-2.5zM192.1 121.2h2.5v2.5h-2.5zM192.1 131.5h2.5v2.5h-2.5zM191.6 122.0h2.5v2.5h-2.5zM191.8 131.7h2.5v2.5h-2.5zM191.8 121.3h2.5v2.5h-2.5zM191.8 120.3h2.5v2.5h-2.5zM191.8 119.3h2.5v2.5h-2.5zM191.8 118.3h2.5v2.5h-2.5zM192.8 122.0h2.5v2.5h-2.5zM193.1 131.6h2.5v2.5h-2.5zM193.1 119.6h2.5v2.5h-2.5zM192.6 132.0h2.5v2.5h-2.5zM192.8 130.2h2.5v2.5h-2.5zM192.8 131.2h2.5v2.5h-2.5zM192.8 132.2h2.5v2.5h-2.5zM192.8 133.2h2.5v2.5h-2.5zM192.8 134.2h2.5v2.5h-2.5zM194.2 119.3h2.5v2.5h-2.5zM193.8 130.8h2.5v2.5h-2.5zM193.8 124.3h2.5v2.5h-2.5zM193.5 131.2h2.5v2.5h-2.5zM193.8 130.8h2.5v2.5h-2.5zM193.8 131.8h2.5v2.5h-2.5zM193.8 132.8h2.5v2.5h-2.5zM195.1 121.2h2.5v2.5h-2.5zM194.9 130.1h2.5v2.5h-2.5zM194.4 122.4h2.5v2.5h-2.5zM194.8 130.1h2.5v2.5h-2.5zM195.4 122.9h2.5v2.5h-2.5zM195.3 127.9h2.5v2.5h-2.5zM195.4 119.9h2.5v2.5h-2.5zM195.5 129.5h2.5v2.5h-2.5zM196.4 118.6h2.5v2.5h-2.5zM196.4 128.7h2.5v2.5h-2.5zM196.8 120.7h2.5v2.5h-2.5zM197.1 129.4h2.5v2.5h-2.5zM197.7 122.4h2.5v2.5h-2.5zM197.6 129.3h2.5v2.5h-2.5zM198.2 121.7h2.5v2.5h-2.5zM197.5 129.5h2.5v2.5h-2.5zM199.2 119.0h2.5v2.5h-2.5zM199.1 132.6h2.5v2.5h-2.5zM199.1 119.6h2.5v2.5h-2.5zM199.2 135.8h2.5v2.5h-2.5zM199.7 118.1h2.5v2.5h-2.5zM199.8 134.1h2.5v2.5h-2.5zM199.3 117.5h2.5v2.5h-2.5zM199.3 135.7h2.5v2.5h-2.5zM201.0 121.7h2.5v2.5h-2.5zM201.1 132.8h2.5v2.5h-2.5zM201.1 120.3h2.5v2.5h-2.5zM200.9 133.3h2.5v2.5h-2.5zM201.5 117.9h2.5v2.5h-2.5zM201.9 135.8h2.5v2.5h-2.5zM201.5 119.4h2.5v2.5h-2.5zM202.2 136.4h2.5v2.5h-2.5zM202.9 124.6h2.5v2.5h-2.5zM203.2 141.3h2.5v2.5h-2.5zM202.8 123.1h2.5v2.5h-2.5zM202.8 141.6h2.5v2.5h-2.5zM203.4 125.7h2.5v2.5h-2.5zM203.5 144.3h2.5v2.5h-2.5zM203.5 127.4h2.5v2.5h-2.5zM204.1 143.8h2.5v2.5h-2.5zM204.9 128.9h2.5v2.5h-2.5zM204.7 146.6h2.5v2.5h-2.5zM204.8 127.2h2.5v2.5h-2.5zM204.6 143.7h2.5v2.5h-2.5zM205.8 131.2h2.5v2.5h-2.5zM205.3 148.3h2.5v2.5h-2.5zM205.6 133.1h2.5v2.5h-2.5zM205.8 146.4h2.5v2.5h-2.5zM207.2 135.6h2.5v2.5h-2.5zM206.4 152.8h2.5v2.5h-2.5zM206.3 137.2h2.5v2.5h-2.5zM206.3 149.7h2.5v2.5h-2.5zM208.0 140.4h2.5v2.5h-2.5zM208.2 154.2h2.5v2.5h-2.5zM208.0 140.4h2.5v2.5h-2.5zM207.6 154.6h2.5v2.5h-2.5zM209.1 144.1h2.5v2.5h-2.5zM209.0 156.5h2.5v2.5h-2.5zM209.0 143.5h2.5v2.5h-2.5zM209.0 156.4h2.5v2.5h-2.5zM209.4 142.4h2.5v2.5h-2.5zM210.0 156.5h2.5v2.5h-2.5zM209.8 139.0h2.5v2.5h-2.5zM209.8 156.6h2.5v2.5h-2.5zM211.1 139.7h2.5v2.5h-2.5zM210.7 155.9h2.5v2.5h-2.5zM210.7 140.5h2.5v2.5h-2.5zM210.6 155.6h2.5v2.5h-2.5zM211.6 140.4h2.5v2.5h-2.5zM211.7 153.9h2.5v2.5h-2.5zM211.7 140.3h2.5v2.5h-2.5zM211.4 157.4h2.5v2.5h-2.5zM212.3 139.8h2.5v2.5h-2.5zM213.1 154.3h2.5v2.5h-2.5zM213.1 139.6h2.5v2.5h-2.5zM212.7 154.7h2.5v2.5h-2.5zM212.8 154.9h2.5v2.5h-2.5zM212.8 155.9h2.5v2.5h-2.5zM213.8 133.3h2.5v2.5h-2.5zM214.0 150.8h2.5v2.5h-2.5zM213.8 137.8h2.5v2.5h-2.5zM213.8 150.8h2.5v2.5h-2.5zM214.6 134.5h2.5v2.5h-2.5zM215.2 148.7h2.5v2.5h-2.5zM214.9 135.0h2.5v2.5h-2.5zM214.6 149.2h2.5v2.5h-2.5zM215.8 138.4h2.5v2.5h-2.5zM215.7 147.5h2.5v2.5h-2.5zM215.7 132.9h2.5v2.5h-2.5zM215.6 146.7h2.5v2.5h-2.5zM216.4 133.9h2.5v2.5h-2.5zM217.1 152.1h2.5v2.5h-2.5zM216.8 137.5h2.5v2.5h-2.5zM216.9 150.6h2.5v2.5h-2.5zM218.1 132.9h2.5v2.5h-2.5zM217.5 148.9h2.5v2.5h-2.5zM217.8 132.8h2.5v2.5h-2.5zM217.4 148.5h2.5v2.5h-2.5zM218.6 135.2h2.5v2.5h-2.5zM218.3 147.9h2.5v2.5h-2.5zM218.7 133.6h2.5v2.5h-2.5zM218.9 146.9h2.5v2.5h-2.5zM218.8 133.4h2.5v2.5h-2.5zM218.8 132.4h2.5v2.5h-2.5zM218.8 131.4h2.5v2.5h-2.5zM219.8 132.0h2.5v2.5h-2.5zM219.7 147.4h2.5v2.5h-2.5zM219.8 132.3h2.5v2.5h-2.5zM219.8 150.1h2.5v2.5h-2.5zM220.7 133.4h2.5v2.5h-2.5zM221.0 148.0h2.5v2.5h-2.5zM220.4 133.5h2.5v2.5h-2.5zM220.8 148.0h2.5v2.5h-2.5zM222.1 132.7h2.5v2.5h-2.5zM222.0 146.2h2.5v2.5h-2.5zM221.6 132.3h2.5v2.5h-2.5zM221.4 145.0h2.5v2.5h-2.5zM221.8 146.2h2.5v2.5h-2.5zM221.8 147.2h2.5v2.5h-2.5zM221.8 148.2h2.5v2.5h-2.5zM221.8 149.2h2.5v2.5h-2.5zM221.8 150.2h2.5v2.5h-2.5zM222.8 129.9h2.5v2.5h-2.5zM222.6 146.9h2.5v2.5h-2.5zM222.3 132.1h2.5v2.5h-2.5zM223.2 144.7h2.5v2.5h-2.5zM223.5 132.9h2.5v2.5h-2.5zM224.1 146.8h2.5v2.5h-2.5zM223.6 132.0h2.5v2.5h-2.5zM223.6 144.6h2.5v2.5h-2.5zM224.7 129.4h2.5v2.5h-2.5zM224.6 144.8h2.5v2.5h-2.5zM225.0 128.7h2.5v2.5h-2.5zM225.1 146.2h2.5v2.5h-2.5zM225.5 129.4h2.5v2.5h-2.5zM225.4 146.3h2.5v2.5h-2.5zM226.2 128.4h2.5v2.5h-2.5zM225.4 146.8h2.5v2.5h-2.5zM226.7 130.0h2.5v2.5h-2.5zM227.1 146.0h2.5v2.5h-2.5zM226.6 129.4h2.5v2.5h-2.5zM226.5 146.6h2.5v2.5h-2.5zM226.8 145.8h2.5v2.5h-2.5zM226.8 146.8h2.5v2.5h-2.5zM226.8 147.8h2.5v2.5h-2.5zM226.8 148.8h2.5v2.5h-2.5zM227.6 131.0h2.5v2.5h-2.5zM227.3 147.5h2.5v2.5h-2.5zM227.5 130.2h2.5v2.5h-2.5zM227.7 145.2h2.5v2.5h-2.5zM228.4 129.0h2.5v2.5h-2.5zM228.6 148.6h2.5v2.5h-2.5zM229.2 131.0h2.5v2.5h-2.5zM228.8 150.0h2.5v2.5h-2.5zM229.4 129.6h2.5v2.5h-2.5zM230.1 146.6h2.5v2.5h-2.5zM229.8 129.2h2.5v2.5h-2.5zM229.9 148.3h2.5v2.5h-2.5zM230.4 127.5h2.5v2.5h-2.5zM230.5 146.2h2.5v2.5h-2.5zM231.0 127.7h2.5v2.5h-2.5zM230.8 147.6h2.5v2.5h-2.5zM231.3 130.8h2.5v2.5h-2.5zM231.6 149.7h2.5v2.5h-2.5zM231.9 131.0h2.5v2.5h-2.5zM231.6 148.5h2.5v2.5h-2.5zM232.3 129.1h2.5v2.5h-2.5zM232.4 146.9h2.5v2.5h-2.5zM233.0 129.1h2.5v2.5h-2.5zM233.2 147.4h2.5v2.5h-2.5zM234.1 131.9h2.5v2.5h-2.5zM233.3 146.9h2.5v2.5h-2.5zM233.9 130.6h2.5v2.5h-2.5zM233.7 145.1h2.5v2.5h-2.5zM234.5 133.1h2.5v2.5h-2.5zM234.9 144.7h2.5v2.5h-2.5zM234.4 134.6h2.5v2.5h-2.5zM235.0 147.6h2.5v2.5h-2.5zM234.8 145.7h2.5v2.5h-2.5zM234.8 146.7h2.5v2.5h-2.5zM235.4 133.6h2.5v2.5h-2.5zM235.6 147.6h2.5v2.5h-2.5zM235.3 132.6h2.5v2.5h-2.5zM235.4 148.3h2.5v2.5h-2.5zM237.0 131.9h2.5v2.5h-2.5zM236.9 149.2h2.5v2.5h-2.5zM236.6 134.4h2.5v2.5h-2.5zM237.0 147.8h2.5v2.5h-2.5zM236.8 147.8h2.5v2.5h-2.5zM236.8 148.8h2.5v2.5h-2.5zM236.8 149.8h2.5v2.5h-2.5zM236.8 150.8h2.5v2.5h-2.5zM236.8 151.8h2.5v2.5h-2.5zM237.9 133.8h2.5v2.5h-2.5zM237.4 148.4h2.5v2.5h-2.5zM238.0 133.6h2.5v2.5h-2.5zM238.0 151.0h2.5v2.5h-2.5zM237.8 132.9h2.5v2.5h-2.5zM237.8 131.9h2.5v2.5h-2.5zM237.8 130.9h2.5v2.5h-2.5zM237.8 129.9h2.5v2.5h-2.5zM239.0 132.7h2.5v2.5h-2.5zM238.3 146.0h2.5v2.5h-2.5zM239.2 129.5h2.5v2.5h-2.5zM238.9 148.3h2.5v2.5h-2.5zM239.9 130.8h2.5v2.5h-2.5zM239.9 148.5h2.5v2.5h-2.5zM239.7 128.2h2.5v2.5h-2.5zM239.4 148.2h2.5v2.5h-2.5zM239.8 148.4h2.5v2.5h-2.5zM239.8 149.4h2.5v2.5h-2.5zM239.8 150.4h2.5v2.5h-2.5zM239.8 151.4h2.5v2.5h-2.5zM241.1 132.4h2.5v2.5h-2.5zM241.2 150.9h2.5v2.5h-2.5zM240.9 131.5h2.5v2.5h-2.5zM240.3 149.0h2.5v2.5h-2.5zM241.5 132.1h2.5v2.5h-2.5zM242.0 148.9h2.5v2.5h-2.5zM241.9 132.5h2.5v2.5h-2.5zM241.8 149.3h2.5v2.5h-2.5zM242.6 129.9h2.5v2.5h-2.5zM242.4 151.1h2.5v2.5h-2.5zM242.8 129.5h2.5v2.5h-2.5zM242.8 150.6h2.5v2.5h-2.5zM243.9 130.6h2.5v2.5h-2.5zM244.0 146.6h2.5v2.5h-2.5zM244.1 132.6h2.5v2.5h-2.5zM243.6 148.1h2.5v2.5h-2.5zM243.8 147.4h2.5v2.5h-2.5zM243.8 148.4h2.5v2.5h-2.5zM243.8 149.4h2.5v2.5h-2.5zM244.4 130.9h2.5v2.5h-2.5zM244.4 145.1h2.5v2.5h-2.5zM244.6 130.2h2.5v2.5h-2.5zM244.4 146.7h2.5v2.5h-2.5zM244.8 131.4h2.5v2.5h-2.5zM244.8 130.4h2.5v2.5h-2.5zM246.0 133.7h2.5v2.5h-2.5zM246.2 146.8h2.5v2.5h-2.5zM245.8 133.0h2.5v2.5h-2.5zM245.7 146.7h2.5v2.5h-2.5zM246.3 132.3h2.5v2.5h-2.5zM246.9 143.5h2.5v2.5h-2.5zM247.2 130.1h2.5v2.5h-2.5zM246.5 143.6h2.5v2.5h-2.5zM246.8 144.4h2.5v2.5h-2.5zM246.8 145.4h2.5v2.5h-2.5zM246.8 146.4h2.5v2.5h-2.5zM246.8 147.4h2.5v2.5h-2.5zM246.8 148.4h2.5v2.5h-2.5zM248.1 130.1h2.5v2.5h-2.5zM247.9 145.4h2.5v2.5h-2.5zM248.1 131.0h2.5v2.5h-2.5zM248.0 144.3h2.5v2.5h-2.5zM248.6 132.4h2.5v2.5h-2.5zM248.6 146.6h2.5v2.5h-2.5zM248.6 130.2h2.5v2.5h-2.5zM249.1 144.0h2.5v2.5h-2.5zM248.8 144.3h2.5v2.5h-2.5zM248.8 145.3h2.5v2.5h-2.5zM248.8 146.3h2.5v2.5h-2.5zM248.8 147.3h2.5v2.5h-2.5zM249.9 131.8h2.5v2.5h-2.5zM250.2 143.3h2.5v2.5h-2.5zM250.2 129.4h2.5v2.5h-2.5zM249.4 145.2h2.5v2.5h-2.5zM250.3 132.0h2.5v2.5h-2.5zM250.7 146.3h2.5v2.5h-2.5zM251.2 132.6h2.5v2.5h-2.5zM250.7 147.2h2.5v2.5h-2.5zM251.3 132.7h2.5v2.5h-2.5zM252.0 146.1h2.5v2.5h-2.5zM251.7 130.9h2.5v2.5h-2.5zM251.8 150.1h2.5v2.5h-2.5zM252.7 131.5h2.5v2.5h-2.5zM253.2 145.2h2.5v2.5h-2.5zM252.4 132.3h2.5v2.5h-2.5zM252.8 148.6h2.5v2.5h-2.5zM253.3 133.2h2.5v2.5h-2.5zM254.2 149.5h2.5v2.5h-2.5zM254.2 136.2h2.5v2.5h-2.5zM254.2 145.5h2.5v2.5h-2.5zM254.3 133.2h2.5v2.5h-2.5zM254.5 145.5h2.5v2.5h-2.5zM254.8 135.5h2.5v2.5h-2.5zM254.9 146.7h2.5v2.5h-2.5zM256.1 134.7h2.5v2.5h-2.5zM255.9 148.8h2.5v2.5h-2.5zM255.7 135.5h2.5v2.5h-2.5zM255.6 149.7h2.5v2.5h-2.5zM256.8 131.7h2.5v2.5h-2.5zM256.4 147.5h2.5v2.5h-2.5zM256.4 134.1h2.5v2.5h-2.5zM256.4 147.0h2.5v2.5h-2.5zM257.3 133.2h2.5v2.5h-2.5zM257.7 149.4h2.5v2.5h-2.5zM257.8 134.4h2.5v2.5h-2.5zM257.4 151.2h2.5v2.5h-2.5zM258.3 133.6h2.5v2.5h-2.5zM258.7 150.3h2.5v2.5h-2.5zM259.1 132.0h2.5v2.5h-2.5zM259.0 149.4h2.5v2.5h-2.5zM258.8 134.0h2.5v2.5h-2.5zM258.8 133.0h2.5v2.5h-2.5zM258.8 132.0h2.5v2.5h-2.5zM258.8 131.0h2.5v2.5h-2.5zM258.8 130.0h2.5v2.5h-2.5zM259.4 135.8h2.5v2.5h-2.5zM259.4 147.5h2.5v2.5h-2.5zM260.2 133.1h2.5v2.5h-2.5zM259.4 147.7h2.5v2.5h-2.5zM259.8 148.6h2.5v2.5h-2.5zM259.8 149.6h2.5v2.5h-2.5zM260.6 136.1h2.5v2.5h-2.5zM260.5 149.0h2.5v2.5h-2.5zM260.5 134.0h2.5v2.5h-2.5zM261.1 147.5h2.5v2.5h-2.5zM261.8 138.0h2.5v2.5h-2.5zM261.4 149.1h2.5v2.5h-2.5zM262.0 134.5h2.5v2.5h-2.5zM261.9 152.3h2.5v2.5h-2.5zM262.6 134.8h2.5v2.5h-2.5zM263.0 148.0h2.5v2.5h-2.5zM262.3 134.6h2.5v2.5h-2.5zM262.8 150.8h2.5v2.5h-2.5zM262.8 151.1h2.5v2.5h-2.5zM262.8 152.1h2.5v2.5h-2.5zM262.8 153.1h2.5v2.5h-2.5zM262.8 154.1h2.5v2.5h-2.5zM262.8 155.1h2.5v2.5h-2.5zM263.9 136.2h2.5v2.5h-2.5zM263.7 152.7h2.5v2.5h-2.5zM264.1 135.7h2.5v2.5h-2.5zM263.3 151.5h2.5v2.5h-2.5zM263.8 136.2h2.5v2.5h-2.5zM263.8 135.2h2.5v2.5h-2.5zM263.8 134.2h2.5v2.5h-2.5zM263.8 133.2h2.5v2.5h-2.5zM263.8 132.2h2.5v2.5h-2.5zM264.8 136.6h2.5v2.5h-2.5zM264.6 154.2h2.5v2.5h-2.5zM264.4 138.2h2.5v2.5h-2.5zM264.9 151.2h2.5v2.5h-2.5zM265.3 136.2h2.5v2.5h-2.5zM265.8 152.0h2.5v2.5h-2.5zM266.1 136.8h2.5v2.5h-2.5zM265.4 151.0h2.5v2.5h-2.5zM266.6 135.5h2.5v2.5h-2.5zM267.1 152.5h2.5v2.5h-2.5zM266.6 137.5h2.5v2.5h-2.5zM266.3 151.1h2.5v2.5h-2.5zM268.1 136.5h2.5v2.5h-2.5zM267.4 150.8h2.5v2.5h-2.5zM267.6 135.2h2.5v2.5h-2.5zM267.6 151.4h2.5v2.5h-2.5zM267.8 151.0h2.5v2.5h-2.5zM267.8 152.0h2.5v2.5h-2.5zM267.8 153.0h2.5v2.5h-2.5zM267.8 154.0h2.5v2.5h-2.5zM268.6 138.0h2.5v2.5h-2.5zM269.2 150.8h2.5v2.5h-2.5zM268.3 137.8h2.5v2.5h-2.5zM268.5 152.1h2.5v2.5h-2.5zM269.5 136.2h2.5v2.5h-2.5zM270.2 149.5h2.5v2.5h-2.5zM270.2 139.3h2.5v2.5h-2.5zM270.0 150.5h2.5v2.5h-2.5zM270.9 137.8h2.5v2.5h-2.5zM270.5 149.3h2.5v2.5h-2.5zM271.0 140.7h2.5v2.5h-2.5zM270.9 148.0h2.5v2.5h-2.5zM272.0 136.7h2.5v2.5h-2.5zM271.6 150.4h2.5v2.5h-2.5zM271.8 138.1h2.5v2.5h-2.5zM271.6 150.8h2.5v2.5h-2.5zM272.7 136.7h2.5v2.5h-2.5zM272.5 151.5h2.5v2.5h-2.5zM272.6 137.5h2.5v2.5h-2.5zM273.1 150.9h2.5v2.5h-2.5zM273.8 136.0h2.5v2.5h-2.5zM273.3 150.3h2.5v2.5h-2.5zM273.6 135.5h2.5v2.5h-2.5zM273.8 151.5h2.5v2.5h-2.5zM275.2 135.1h2.5v2.5h-2.5zM274.4 147.7h2.5v2.5h-2.5zM274.8 136.8h2.5v2.5h-2.5zM275.0 147.8h2.5v2.5h-2.5zM275.3 132.3h2.5v2.5h-2.5zM275.5 146.8h2.5v2.5h-2.5zM275.5 135.8h2.5v2.5h-2.5zM275.5 146.7h2.5v2.5h-2.5zM276.6 133.6h2.5v2.5h-2.5zM277.1 148.5h2.5v2.5h-2.5zM276.9 133.7h2.5v2.5h-2.5zM277.2 148.8h2.5v2.5h-2.5zM276.8 146.8h2.5v2.5h-2.5zM276.8 147.8h2.5v2.5h-2.5zM276.8 148.8h2.5v2.5h-2.5zM276.8 149.8h2.5v2.5h-2.5zM276.8 150.8h2.5v2.5h-2.5zM278.1 132.5h2.5v2.5h-2.5zM277.4 146.9h2.5v2.5h-2.5zM277.8 134.2h2.5v2.5h-2.5zM278.2 145.0h2.5v2.5h-2.5zM279.0 129.6h2.5v2.5h-2.5zM278.9 143.6h2.5v2.5h-2.5zM278.6 131.6h2.5v2.5h-2.5zM278.3 145.1h2.5v2.5h-2.5zM279.7 128.0h2.5v2.5h-2.5zM279.7 143.5h2.5v2.5h-2.5zM279.3 130.3h2.5v2.5h-2.5zM280.2 143.3h2.5v2.5h-2.5zM279.8 128.8h2.5v2.5h-2.5zM279.8 127.8h2.5v2.5h-2.5zM279.8 126.8h2.5v2.5h-2.5zM279.8 125.8h2.5v2.5h-2.5zM280.6 128.9h2.5v2.5h-2.5zM280.4 144.9h2.5v2.5h-2.5zM281.0 130.3h2.5v2.5h-2.5zM280.7 145.7h2.5v2.5h-2.5zM281.8 127.7h2.5v2.5h-2.5zM281.6 142.7h2.5v2.5h-2.5zM282.0 128.6h2.5v2.5h-2.5zM282.0 146.3h2.5v2.5h-2.5zM283.0 129.5h2.5v2.5h-2.5zM282.5 145.1h2.5v2.5h-2.5zM282.8 128.7h2.5v2.5h-2.5zM282.3 145.0h2.5v2.5h-2.5zM284.0 126.0h2.5v2.5h-2.5zM283.5 148.4h2.5v2.5h-2.5zM284.0 128.8h2.5v2.5h-2.5zM283.4 145.6h2.5v2.5h-2.5zM283.8 128.6h2.5v2.5h-2.5zM283.8 127.6h2.5v2.5h-2.5zM283.8 126.6h2.5v2.5h-2.5zM283.8 125.6h2.5v2.5h-2.5zM284.4 129.0h2.5v2.5h-2.5zM284.4 144.5h2.5v2.5h-2.5zM284.4 127.6h2.5v2.5h-2.5zM284.4 142.0h2.5v2.5h-2.5zM284.8 127.8h2.5v2.5h-2.5zM284.8 126.8h2.5v2.5h-2.5zM284.8 125.8h2.5v2.5h-2.5zM284.8 124.8h2.5v2.5h-2.5zM284.8 123.8h2.5v2.5h-2.5zM286.2 126.3h2.5v2.5h-2.5zM285.6 143.8h2.5v2.5h-2.5zM286.1 127.0h2.5v2.5h-2.5zM286.2 144.1h2.5v2.5h-2.5zM285.8 128.1h2.5v2.5h-2.5zM285.8 127.1h2.5v2.5h-2.5zM285.8 126.1h2.5v2.5h-2.5zM285.8 125.1h2.5v2.5h-2.5zM285.8 143.8h2.5v2.5h-2.5zM285.8 144.8h2.5v2.5h-2.5zM285.8 145.8h2.5v2.5h-2.5zM285.8 146.8h2.5v2.5h-2.5zM286.7 129.5h2.5v2.5h-2.5zM286.8 142.1h2.5v2.5h-2.5zM286.7 131.9h2.5v2.5h-2.5zM286.9 140.9h2.5v2.5h-2.5zM287.5 128.8h2.5v2.5h-2.5zM287.5 143.6h2.5v2.5h-2.5zM288.0 129.0h2.5v2.5h-2.5zM288.2 142.4h2.5v2.5h-2.5zM288.4 131.1h2.5v2.5h-2.5zM288.5 140.1h2.5v2.5h-2.5zM289.0 129.9h2.5v2.5h-2.5zM288.6 141.1h2.5v2.5h-2.5zM289.4 128.5h2.5v2.5h-2.5zM289.7 141.1h2.5v2.5h-2.5zM289.8 129.9h2.5v2.5h-2.5zM290.1 142.1h2.5v2.5h-2.5zM291.1 127.8h2.5v2.5h-2.5zM291.2 144.7h2.5v2.5h-2.5zM290.5 127.4h2.5v2.5h-2.5zM291.2 142.5h2.5v2.5h-2.5zM290.8 126.8h2.5v2.5h-2.5zM290.8 125.8h2.5v2.5h-2.5zM290.8 124.8h2.5v2.5h-2.5zM290.8 123.8h2.5v2.5h-2.5zM290.8 122.8h2.5v2.5h-2.5zM292.0 127.3h2.5v2.5h-2.5zM291.9 141.3h2.5v2.5h-2.5zM291.3 125.1h2.5v2.5h-2.5zM292.0 143.3h2.5v2.5h-2.5zM292.3 126.5h2.5v2.5h-2.5zM292.9 142.5h2.5v2.5h-2.5zM292.3 125.3h2.5v2.5h-2.5zM292.7 140.2h2.5v2.5h-2.5zM292.8 126.3h2.5v2.5h-2.5zM292.8 125.3h2.5v2.5h-2.5zM293.6 126.6h2.5v2.5h-2.5zM293.7 139.1h2.5v2.5h-2.5zM293.4 125.4h2.5v2.5h-2.5zM293.9 139.9h2.5v2.5h-2.5zM294.8 126.5h2.5v2.5h-2.5zM294.7 141.1h2.5v2.5h-2.5zM295.2 125.1h2.5v2.5h-2.5zM295.2 141.0h2.5v2.5h-2.5zM295.5 123.6h2.5v2.5h-2.5zM295.3 140.3h2.5v2.5h-2.5zM295.3 121.8h2.5v2.5h-2.5zM295.8 139.3h2.5v2.5h-2.5zM295.8 139.4h2.5v2.5h-2.5zM295.8 140.4h2.5v2.5h-2.5zM295.8 141.4h2.5v2.5h-2.5zM295.8 142.4h2.5v2.5h-2.5zM296.9 121.8h2.5v2.5h-2.5zM296.9 139.3h2.5v2.5h-2.5zM297.2 124.8h2.5v2.5h-2.5zM296.6 138.3h2.5v2.5h-2.5zM298.2 122.1h2.5v2.5h-2.5zM297.7 138.9h2.5v2.5h-2.5zM297.4 123.2h2.5v2.5h-2.5zM297.9 138.1h2.5v2.5h-2.5zM298.9 123.2h2.5v2.5h-2.5zM298.4 138.0h2.5v2.5h-2.5zM298.4 125.2h2.5v2.5h-2.5zM299.2 135.5h2.5v2.5h-2.5zM298.8 123.9h2.5v2.5h-2.5zM298.8 122.9h2.5v2.5h-2.5zM298.8 121.9h2.5v2.5h-2.5zM298.8 120.9h2.5v2.5h-2.5zM299.9 122.0h2.5v2.5h-2.5zM300.2 136.9h2.5v2.5h-2.5zM299.3 123.1h2.5v2.5h-2.5zM299.8 134.7h2.5v2.5h-2.5zM300.5 121.8h2.5v2.5h-2.5zM300.6 135.5h2.5v2.5h-2.5zM301.0 122.1h2.5v2.5h-2.5zM300.9 138.0h2.5v2.5h-2.5zM301.9 123.0h2.5v2.5h-2.5zM301.9 136.0h2.5v2.5h-2.5zM301.5 125.1h2.5v2.5h-2.5zM302.0 135.5h2.5v2.5h-2.5zM302.5 125.8h2.5v2.5h-2.5zM302.8 138.4h2.5v2.5h-2.5zM302.8 121.6h2.5v2.5h-2.5zM302.5 135.7h2.5v2.5h-2.5zM303.7 122.5h2.5v2.5h-2.5zM304.1 133.1h2.5v2.5h-2.5zM304.1 125.3h2.5v2.5h-2.5zM304.1 135.3h2.5v2.5h-2.5zM304.4 123.4h2.5v2.5h-2.5zM304.6 135.4h2.5v2.5h-2.5zM305.1 122.0h2.5v2.5h-2.5zM304.3 134.6h2.5v2.5h-2.5zM305.9 121.7h2.5v2.5h-2.5zM306.0 136.8h2.5v2.5h-2.5zM306.0 124.3h2.5v2.5h-2.5zM305.6 137.9h2.5v2.5h-2.5zM306.6 122.1h2.5v2.5h-2.5zM306.3 139.0h2.5v2.5h-2.5zM306.5 122.4h2.5v2.5h-2.5zM306.4 137.7h2.5v2.5h-2.5zM307.6 123.2h2.5v2.5h-2.5zM307.3 142.2h2.5v2.5h-2.5zM307.9 123.6h2.5v2.5h-2.5zM307.7 139.1h2.5v2.5h-2.5zM308.6 125.7h2.5v2.5h-2.5zM308.6 140.1h2.5v2.5h-2.5zM309.0 124.0h2.5v2.5h-2.5zM308.9 141.0h2.5v2.5h-2.5zM309.6 121.3h2.5v2.5h-2.5zM309.4 138.2h2.5v2.5h-2.5zM310.2 123.6h2.5v2.5h-2.5zM309.9 138.4h2.5v2.5h-2.5zM309.8 139.6h2.5v2.5h-2.5zM309.8 140.6h2.5v2.5h-2.5zM309.8 141.6h2.5v2.5h-2.5zM309.8 142.6h2.5v2.5h-2.5zM309.8 143.6h2.5v2.5h-2.5zM310.6 123.2h2.5v2.5h-2.5zM311.2 140.9h2.5v2.5h-2.5zM311.0 126.4h2.5v2.5h-2.5zM310.7 141.4h2.5v2.5h-2.5zM311.7 124.5h2.5v2.5h-2.5zM311.7 143.3h2.5v2.5h-2.5zM311.7 124.8h2.5v2.5h-2.5zM311.9 142.7h2.5v2.5h-2.5zM312.3 126.1h2.5v2.5h-2.5zM313.0 142.2h2.5v2.5h-2.5zM313.0 127.5h2.5v2.5h-2.5zM312.3 144.3h2.5v2.5h-2.5zM312.8 143.7h2.5v2.5h-2.5zM312.8 144.7h2.5v2.5h-2.5zM314.0 126.6h2.5v2.5h-2.5zM313.9 144.5h2.5v2.5h-2.5zM314.0 126.6h2.5v2.5h-2.5zM313.9 144.7h2.5v2.5h-2.5zM315.2 130.0h2.5v2.5h-2.5zM314.4 142.3h2.5v2.5h-2.5zM314.6 128.8h2.5v2.5h-2.5zM315.2 144.7h2.5v2.5h-2.5zM315.6 129.2h2.5v2.5h-2.5zM315.8 148.3h2.5v2.5h-2.5zM315.8 128.9h2.5v2.5h-2.5zM315.6 146.0h2.5v2.5h-2.5zM317.1 128.9h2.5v2.5h-2.5zM316.3 147.4h2.5v2.5h-2.5zM316.8 127.9h2.5v2.5h-2.5zM316.7 147.6h2.5v2.5h-2.5zM318.1 130.4h2.5v2.5h-2.5zM317.8 150.2h2.5v2.5h-2.5zM317.3 128.9h2.5v2.5h-2.5zM317.7 148.9h2.5v2.5h-2.5zM318.5 130.1h2.5v2.5h-2.5zM319.0 146.6h2.5v2.5h-2.5zM319.1 128.6h2.5v2.5h-2.5zM319.2 146.8h2.5v2.5h-2.5zM319.3 129.6h2.5v2.5h-2.5zM319.3 146.9h2.5v2.5h-2.5zM320.1 132.9h2.5v2.5h-2.5zM319.4 146.9h2.5v2.5h-2.5zM321.1 130.8h2.5v2.5h-2.5zM320.9 146.4h2.5v2.5h-2.5zM320.5 133.3h2.5v2.5h-2.5zM320.4 148.8h2.5v2.5h-2.5zM321.4 134.6h2.5v2.5h-2.5zM322.2 148.1h2.5v2.5h-2.5zM321.7 132.1h2.5v2.5h-2.5zM322.2 145.9h2.5v2.5h-2.5zM322.3 131.0h2.5v2.5h-2.5zM323.1 145.8h2.5v2.5h-2.5zM322.5 131.4h2.5v2.5h-2.5zM322.6 147.9h2.5v2.5h-2.5zM324.2 128.7h2.5v2.5h-2.5zM323.4 148.0h2.5v2.5h-2.5zM324.0 131.1h2.5v2.5h-2.5zM323.3 145.6h2.5v2.5h-2.5zM324.5 128.5h2.5v2.5h-2.5zM324.7 143.2h2.5v2.5h-2.5zM325.0 127.3h2.5v2.5h-2.5zM324.4 144.2h2.5v2.5h-2.5zM326.2 130.6h2.5v2.5h-2.5zM325.8 143.6h2.5v2.5h-2.5zM325.5 126.3h2.5v2.5h-2.5zM325.7 145.4h2.5v2.5h-2.5zM325.8 143.7h2.5v2.5h-2.5zM325.8 144.7h2.5v2.5h-2.5zM325.8 145.7h2.5v2.5h-2.5zM327.1 125.8h2.5v2.5h-2.5zM326.3 142.1h2.5v2.5h-2.5zM326.4 126.8h2.5v2.5h-2.5zM327.1 145.7h2.5v2.5h-2.5zM327.3 123.5h2.5v2.5h-2.5zM327.6 139.1h2.5v2.5h-2.5zM328.2 126.0h2.5v2.5h-2.5zM327.6 140.7h2.5v2.5h-2.5zM329.0 126.2h2.5v2.5h-2.5zM328.5 142.2h2.5v2.5h-2.5zM328.3 124.7h2.5v2.5h-2.5zM328.8 140.0h2.5v2.5h-2.5zM329.7 128.8h2.5v2.5h-2.5zM329.3 140.9h2.5v2.5h-2.5zM329.9 128.4h2.5v2.5h-2.5zM329.6 141.8h2.5v2.5h-2.5zM330.4 128.4h2.5v2.5h-2.5zM330.6 143.5h2.5v2.5h-2.5zM331.1 128.0h2.5v2.5h-2.5zM330.4 139.8h2.5v2.5h-2.5zM330.8 126.9h2.5v2.5h-2.5zM330.8 125.9h2.5v2.5h-2.5zM330.8 124.9h2.5v2.5h-2.5zM330.8 123.9h2.5v2.5h-2.5zM330.8 122.9h2.5v2.5h-2.5zM330.8 140.8h2.5v2.5h-2.5zM330.8 141.8h2.5v2.5h-2.5zM330.8 142.8h2.5v2.5h-2.5zM331.8 128.0h2.5v2.5h-2.5zM331.4 144.2h2.5v2.5h-2.5zM331.8 125.7h2.5v2.5h-2.5zM331.4 143.2h2.5v2.5h-2.5zM332.4 127.9h2.5v2.5h-2.5zM332.8 145.9h2.5v2.5h-2.5zM333.1 130.9h2.5v2.5h-2.5zM332.7 143.6h2.5v2.5h-2.5zM333.9 128.8h2.5v2.5h-2.5zM333.4 146.5h2.5v2.5h-2.5zM333.5 129.8h2.5v2.5h-2.5zM333.8 144.6h2.5v2.5h-2.5zM334.3 127.6h2.5v2.5h-2.5zM334.8 144.6h2.5v2.5h-2.5zM335.0 128.3h2.5v2.5h-2.5zM334.5 144.6h2.5v2.5h-2.5zM335.3 127.4h2.5v2.5h-2.5zM336.1 142.8h2.5v2.5h-2.5zM335.6 129.4h2.5v2.5h-2.5zM336.2 142.8h2.5v2.5h-2.5zM335.8 128.9h2.5v2.5h-2.5zM335.8 127.9h2.5v2.5h-2.5zM335.8 126.9h2.5v2.5h-2.5zM335.8 125.9h2.5v2.5h-2.5zM335.8 124.9h2.5v2.5h-2.5zM336.7 131.5h2.5v2.5h-2.5zM337.0 144.8h2.5v2.5h-2.5zM336.9 131.3h2.5v2.5h-2.5zM336.4 145.3h2.5v2.5h-2.5zM337.6 133.9h2.5v2.5h-2.5zM338.0 143.2h2.5v2.5h-2.5zM337.7 127.2h2.5v2.5h-2.5zM338.2 143.9h2.5v2.5h-2.5zM338.4 127.4h2.5v2.5h-2.5zM339.0 141.0h2.5v2.5h-2.5zM338.3 128.9h2.5v2.5h-2.5zM338.4 141.6h2.5v2.5h-2.5zM340.0 131.8h2.5v2.5h-2.5zM340.2 144.4h2.5v2.5h-2.5zM340.2 130.1h2.5v2.5h-2.5zM340.1 140.1h2.5v2.5h-2.5zM341.1 129.5h2.5v2.5h-2.5zM340.5 140.9h2.5v2.5h-2.5zM341.2 125.9h2.5v2.5h-2.5zM340.4 142.9h2.5v2.5h-2.5zM341.5 128.6h2.5v2.5h-2.5zM341.4 142.0h2.5v2.5h-2.5zM341.7 128.3h2.5v2.5h-2.5zM342.2 144.3h2.5v2.5h-2.5zM342.6 128.4h2.5v2.5h-2.5zM342.9 140.5h2.5v2.5h-2.5zM343.2 128.5h2.5v2.5h-2.5zM342.3 141.6h2.5v2.5h-2.5zM343.6 125.7h2.5v2.5h-2.5zM344.0 140.3h2.5v2.5h-2.5zM343.3 127.5h2.5v2.5h-2.5zM343.4 141.7h2.5v2.5h-2.5zM344.9 126.1h2.5v2.5h-2.5zM344.5 142.2h2.5v2.5h-2.5zM344.6 128.3h2.5v2.5h-2.5zM344.5 140.4h2.5v2.5h-2.5zM344.8 127.2h2.5v2.5h-2.5zM344.8 126.2h2.5v2.5h-2.5zM344.8 125.2h2.5v2.5h-2.5zM345.7 125.6h2.5v2.5h-2.5zM345.4 142.2h2.5v2.5h-2.5zM345.9 129.2h2.5v2.5h-2.5zM345.4 144.8h2.5v2.5h-2.5zM346.6 129.9h2.5v2.5h-2.5zM346.9 147.2h2.5v2.5h-2.5zM347.1 128.2h2.5v2.5h-2.5zM347.2 145.5h2.5v2.5h-2.5zM347.4 129.4h2.5v2.5h-2.5zM347.8 145.6h2.5v2.5h-2.5zM347.3 130.4h2.5v2.5h-2.5zM347.7 149.0h2.5v2.5h-2.5zM348.6 131.3h2.5v2.5h-2.5zM349.1 146.6h2.5v2.5h-2.5zM348.8 127.8h2.5v2.5h-2.5zM349.1 147.7h2.5v2.5h-2.5zM348.8 145.6h2.5v2.5h-2.5zM348.8 146.6h2.5v2.5h-2.5zM348.8 147.6h2.5v2.5h-2.5zM348.8 148.6h2.5v2.5h-2.5zM349.7 132.5h2.5v2.5h-2.5zM349.9 146.9h2.5v2.5h-2.5zM349.9 130.2h2.5v2.5h-2.5zM349.9 148.4h2.5v2.5h-2.5zM350.6 132.8h2.5v2.5h-2.5zM351.1 147.4h2.5v2.5h-2.5zM350.9 131.1h2.5v2.5h-2.5zM351.0 146.9h2.5v2.5h-2.5zM352.0 134.5h2.5v2.5h-2.5zM351.4 147.9h2.5v2.5h-2.5zM352.2 133.9h2.5v2.5h-2.5zM351.8 147.2h2.5v2.5h-2.5zM351.8 147.6h2.5v2.5h-2.5zM351.8 148.6h2.5v2.5h-2.5zM351.8 149.6h2.5v2.5h-2.5zM353.0 131.4h2.5v2.5h-2.5zM353.0 146.0h2.5v2.5h-2.5zM352.5 130.7h2.5v2.5h-2.5zM353.2 146.5h2.5v2.5h-2.5zM353.9 128.9h2.5v2.5h-2.5zM354.0 149.5h2.5v2.5h-2.5zM353.9 131.2h2.5v2.5h-2.5zM353.8 147.9h2.5v2.5h-2.5zM354.6 131.8h2.5v2.5h-2.5zM355.1 149.1h2.5v2.5h-2.5zM354.4 130.7h2.5v2.5h-2.5zM354.6 147.1h2.5v2.5h-2.5zM354.8 130.8h2.5v2.5h-2.5zM354.8 129.8h2.5v2.5h-2.5zM354.8 128.8h2.5v2.5h-2.5zM356.2 133.0h2.5v2.5h-2.5zM355.6 148.7h2.5v2.5h-2.5zM356.2 132.6h2.5v2.5h-2.5zM355.7 150.0h2.5v2.5h-2.5zM355.8 132.2h2.5v2.5h-2.5zM355.8 131.2h2.5v2.5h-2.5zM355.8 130.2h2.5v2.5h-2.5zM356.6 133.4h2.5v2.5h-2.5zM356.5 147.0h2.5v2.5h-2.5zM357.2 130.0h2.5v2.5h-2.5zM356.9 148.0h2.5v2.5h-2.5zM357.4 133.9h2.5v2.5h-2.5zM357.8 146.0h2.5v2.5h-2.5zM357.9 133.8h2.5v2.5h-2.5zM357.6 146.4h2.5v2.5h-2.5zM358.5 132.8h2.5v2.5h-2.5zM359.0 146.4h2.5v2.5h-2.5zM358.3 134.3h2.5v2.5h-2.5zM358.6 145.6h2.5v2.5h-2.5zM359.5 135.4h2.5v2.5h-2.5zM360.0 147.5h2.5v2.5h-2.5zM359.9 131.9h2.5v2.5h-2.5zM359.4 148.1h2.5v2.5h-2.5zM361.2 132.3h2.5v2.5h-2.5zM361.0 146.4h2.5v2.5h-2.5zM360.6 135.7h2.5v2.5h-2.5zM360.6 147.1h2.5v2.5h-2.5zM361.6 135.3h2.5v2.5h-2.5zM361.8 150.6h2.5v2.5h-2.5zM361.8 132.9h2.5v2.5h-2.5zM361.4 145.8h2.5v2.5h-2.5zM361.8 148.2h2.5v2.5h-2.5zM361.8 149.2h2.5v2.5h-2.5zM361.8 150.2h2.5v2.5h-2.5zM362.8 133.5h2.5v2.5h-2.5zM362.8 145.1h2.5v2.5h-2.5zM362.7 131.4h2.5v2.5h-2.5zM363.1 146.2h2.5v2.5h-2.5zM363.4 129.8h2.5v2.5h-2.5zM363.8 145.3h2.5v2.5h-2.5zM364.1 132.6h2.5v2.5h-2.5zM364.1 146.0h2.5v2.5h-2.5zM364.4 129.4h2.5v2.5h-2.5zM364.9 144.5h2.5v2.5h-2.5zM364.5 131.6h2.5v2.5h-2.5zM365.1 147.1h2.5v2.5h-2.5zM365.5 132.4h2.5v2.5h-2.5zM366.2 147.2h2.5v2.5h-2.5zM366.1 129.5h2.5v2.5h-2.5zM365.3 147.6h2.5v2.5h-2.5zM366.3 129.0h2.5v2.5h-2.5zM366.5 145.8h2.5v2.5h-2.5zM366.3 128.0h2.5v2.5h-2.5zM367.1 146.9h2.5v2.5h-2.5zM366.8 129.5h2.5v2.5h-2.5zM366.8 128.5h2.5v2.5h-2.5zM366.8 127.5h2.5v2.5h-2.5zM366.8 126.5h2.5v2.5h-2.5zM366.8 125.5h2.5v2.5h-2.5zM366.8 146.4h2.5v2.5h-2.5zM366.8 147.4h2.5v2.5h-2.5zM367.9 129.8h2.5v2.5h-2.5zM367.8 147.0h2.5v2.5h-2.5zM367.5 130.6h2.5v2.5h-2.5zM368.1 145.2h2.5v2.5h-2.5zM368.3 131.5h2.5v2.5h-2.5zM368.8 144.8h2.5v2.5h-2.5zM368.7 133.1h2.5v2.5h-2.5zM369.0 145.8h2.5v2.5h-2.5zM369.8 131.8h2.5v2.5h-2.5zM370.1 146.2h2.5v2.5h-2.5zM370.2 133.7h2.5v2.5h-2.5zM369.6 143.6h2.5v2.5h-2.5zM369.8 146.7h2.5v2.5h-2.5zM369.8 147.7h2.5v2.5h-2.5zM369.8 148.7h2.5v2.5h-2.5zM370.4 131.0h2.5v2.5h-2.5zM371.0 148.6h2.5v2.5h-2.5zM370.7 132.5h2.5v2.5h-2.5zM370.7 148.8h2.5v2.5h-2.5zM372.0 131.9h2.5v2.5h-2.5zM371.4 147.0h2.5v2.5h-2.5zM372.0 133.6h2.5v2.5h-2.5zM371.8 148.1h2.5v2.5h-2.5zM373.0 135.7h2.5v2.5h-2.5zM373.0 145.6h2.5v2.5h-2.5zM373.0 133.7h2.5v2.5h-2.5zM372.3 146.8h2.5v2.5h-2.5zM373.9 133.0h2.5v2.5h-2.5zM373.4 149.4h2.5v2.5h-2.5zM373.9 134.2h2.5v2.5h-2.5zM373.3 148.1h2.5v2.5h-2.5zM375.1 132.4h2.5v2.5h-2.5zM374.4 147.6h2.5v2.5h-2.5zM374.4 133.2h2.5v2.5h-2.5zM374.7 150.8h2.5v2.5h-2.5zM376.0 129.6h2.5v2.5h-2.5zM375.4 150.1h2.5v2.5h-2.5zM375.4 130.6h2.5v2.5h-2.5zM375.5 149.1h2.5v2.5h-2.5zM375.8 149.7h2.5v2.5h-2.5zM375.8 150.7h2.5v2.5h-2.5zM375.8 151.7h2.5v2.5h-2.5zM375.8 152.7h2.5v2.5h-2.5zM375.8 153.7h2.5v2.5h-2.5zM377.0 133.4h2.5v2.5h-2.5zM376.7 146.7h2.5v2.5h-2.5zM377.0 128.2h2.5v2.5h-2.5zM377.1 149.6h2.5v2.5h-2.5zM376.8 148.0h2.5v2.5h-2.5zM376.8 149.0h2.5v2.5h-2.5zM377.8 128.7h2.5v2.5h-2.5zM378.1 145.3h2.5v2.5h-2.5zM378.0 128.5h2.5v2.5h-2.5zM378.1 145.2h2.5v2.5h-2.5zM377.8 145.2h2.5v2.5h-2.5zM377.8 146.2h2.5v2.5h-2.5zM377.8 147.2h2.5v2.5h-2.5zM378.9 128.9h2.5v2.5h-2.5zM378.9 143.1h2.5v2.5h-2.5zM378.5 127.9h2.5v2.5h-2.5zM378.6 146.9h2.5v2.5h-2.5zM378.8 127.7h2.5v2.5h-2.5zM378.8 126.7h2.5v2.5h-2.5zM378.8 125.7h2.5v2.5h-2.5zM378.8 124.7h2.5v2.5h-2.5zM379.4 124.9h2.5v2.5h-2.5zM379.9 144.0h2.5v2.5h-2.5zM380.0 126.1h2.5v2.5h-2.5zM380.0 143.7h2.5v2.5h-2.5zM379.8 126.6h2.5v2.5h-2.5zM379.8 125.6h2.5v2.5h-2.5zM379.8 124.6h2.5v2.5h-2.5zM380.9 126.4h2.5v2.5h-2.5zM380.9 140.2h2.5v2.5h-2.5zM380.9 125.9h2.5v2.5h-2.5zM381.2 141.2h2.5v2.5h-2.5zM380.8 141.1h2.5v2.5h-2.5zM380.8 142.1h2.5v2.5h-2.5zM382.2 124.7h2.5v2.5h-2.5zM382.0 140.7h2.5v2.5h-2.5zM382.1 123.1h2.5v2.5h-2.5zM381.3 137.8h2.5v2.5h-2.5zM381.8 124.5h2.5v2.5h-2.5zM381.8 123.5h2.5v2.5h-2.5zM381.8 122.5h2.5v2.5h-2.5zM381.8 121.5h2.5v2.5h-2.5zM381.8 120.5h2.5v2.5h-2.5zM382.3 124.9h2.5v2.5h-2.5zM383.2 138.9h2.5v2.5h-2.5zM382.5 122.6h2.5v2.5h-2.5zM382.9 135.9h2.5v2.5h-2.5zM383.4 125.9h2.5v2.5h-2.5zM383.4 138.9h2.5v2.5h-2.5zM384.2 123.5h2.5v2.5h-2.5zM384.1 137.8h2.5v2.5h-2.5zM384.4 122.7h2.5v2.5h-2.5zM385.2 135.1h2.5v2.5h-2.5zM384.3 123.1h2.5v2.5h-2.5zM385.1 136.4h2.5v2.5h-2.5zM385.8 121.9h2.5v2.5h-2.5zM385.3 136.6h2.5v2.5h-2.5zM385.8 121.4h2.5v2.5h-2.5zM385.3 138.4h2.5v2.5h-2.5zM385.8 137.1h2.5v2.5h-2.5zM385.8 138.1h2.5v2.5h-2.5zM385.8 139.1h2.5v2.5h-2.5zM385.8 140.1h2.5v2.5h-2.5zM385.8 141.1h2.5v2.5h-2.5zM387.1 121.1h2.5v2.5h-2.5zM386.9 137.0h2.5v2.5h-2.5zM386.5 121.1h2.5v2.5h-2.5zM387.2 137.1h2.5v2.5h-2.5zM387.3 122.2h2.5v2.5h-2.5zM388.1 133.4h2.5v2.5h-2.5zM387.4 121.8h2.5v2.5h-2.5zM388.0 136.8h2.5v2.5h-2.5zM389.2 122.8h2.5v2.5h-2.5zM388.3 137.1h2.5v2.5h-2.5zM388.4 122.2h2.5v2.5h-2.5zM388.8 135.6h2.5v2.5h-2.5zM389.9 120.3h2.5v2.5h-2.5zM390.0 133.7h2.5v2.5h-2.5zM390.0 124.1h2.5v2.5h-2.5zM390.0 134.7h2.5v2.5h-2.5zM389.8 122.0h2.5v2.5h-2.5zM389.8 121.0h2.5v2.5h-2.5zM389.8 120.0h2.5v2.5h-2.5zM389.8 119.0h2.5v2.5h-2.5zM390.7 120.9h2.5v2.5h-2.5zM391.2 136.6h2.5v2.5h-2.5zM390.7 120.1h2.5v2.5h-2.5zM390.6 136.2h2.5v2.5h-2.5zM391.3 116.9h2.5v2.5h-2.5zM391.9 136.7h2.5v2.5h-2.5zM392.2 120.5h2.5v2.5h-2.5zM392.2 133.0h2.5v2.5h-2.5zM392.5 120.6h2.5v2.5h-2.5zM392.5 134.2h2.5v2.5h-2.5zM393.1 121.8h2.5v2.5h-2.5zM393.0 133.5h2.5v2.5h-2.5zM394.0 119.9h2.5v2.5h-2.5zM394.1 132.9h2.5v2.5h-2.5zM393.6 119.7h2.5v2.5h-2.5zM393.8 132.1h2.5v2.5h-2.5zM394.8 119.5h2.5v2.5h-2.5zM395.2 131.4h2.5v2.5h-2.5zM394.7 122.2h2.5v2.5h-2.5zM395.2 131.7h2.5v2.5h-2.5zM394.8 120.4h2.5v2.5h-2.5zM394.8 119.4h2.5v2.5h-2.5zM396.2 120.4h2.5v2.5h-2.5zM396.0 134.1h2.5v2.5h-2.5zM396.2 120.0h2.5v2.5h-2.5zM395.9 135.2h2.5v2.5h-2.5zM397.0 118.0h2.5v2.5h-2.5zM396.3 134.3h2.5v2.5h-2.5zM396.9 118.3h2.5v2.5h-2.5zM397.2 134.3h2.5v2.5h-2.5zM397.9 116.3h2.5v2.5h-2.5zM397.6 131.9h2.5v2.5h-2.5zM397.3 118.2h2.5v2.5h-2.5zM397.6 133.1h2.5v2.5h-2.5zM397.8 133.1h2.5v2.5h-2.5zM397.8 134.1h2.5v2.5h-2.5zM397.8 135.1h2.5v2.5h-2.5zM399.2 117.4h2.5v2.5h-2.5zM399.0 131.3h2.5v2.5h-2.5zM398.4 118.7h2.5v2.5h-2.5zM398.7 132.9h2.5v2.5h-2.5zM400.0 120.9h2.5v2.5h-2.5zM399.6 133.1h2.5v2.5h-2.5zM400.1 120.8h2.5v2.5h-2.5zM399.5 131.8h2.5v2.5h-2.5zM400.9 117.1h2.5v2.5h-2.5zM400.4 131.4h2.5v2.5h-2.5zM401.2 118.2h2.5v2.5h-2.5zM400.8 132.8h2.5v2.5h-2.5zM401.4 120.8h2.5v2.5h-2.5zM401.6 134.8h2.5v2.5h-2.5zM401.9 116.9h2.5v2.5h-2.5zM401.3 132.3h2.5v2.5h-2.5zM401.8 117.8h2.5v2.5h-2.5zM401.8 116.8h2.5v2.5h-2.5zM401.8 115.8h2.5v2.5h-2.5zM401.8 114.8h2.5v2.5h-2.5zM401.8 113.8h2.5v2.5h-2.5zM403.2 116.1h2.5v2.5h-2.5zM402.4 134.2h2.5v2.5h-2.5zM403.0 117.4h2.5v2.5h-2.5zM402.8 133.9h2.5v2.5h-2.5zM402.8 117.4h2.5v2.5h-2.5zM402.8 116.4h2.5v2.5h-2.5zM403.5 117.4h2.5v2.5h-2.5zM403.5 134.4h2.5v2.5h-2.5zM403.4 119.2h2.5v2.5h-2.5zM403.6 134.2h2.5v2.5h-2.5zM405.1 121.6h2.5v2.5h-2.5zM405.1 134.4h2.5v2.5h-2.5zM404.5 121.2h2.5v2.5h-2.5zM404.4 134.1h2.5v2.5h-2.5zM405.3 120.1h2.5v2.5h-2.5zM405.4 136.6h2.5v2.5h-2.5zM405.5 118.4h2.5v2.5h-2.5zM405.3 135.9h2.5v2.5h-2.5zM407.2 118.4h2.5v2.5h-2.5zM406.5 134.5h2.5v2.5h-2.5zM407.0 116.5h2.5v2.5h-2.5zM407.2 133.7h2.5v2.5h-2.5zM406.8 134.7h2.5v2.5h-2.5zM406.8 135.7h2.5v2.5h-2.5zM406.8 136.7h2.5v2.5h-2.5zM406.8 137.7h2.5v2.5h-2.5zM406.8 138.7h2.5v2.5h-2.5zM407.8 121.4h2.5v2.5h-2.5zM408.1 137.0h2.5v2.5h-2.5zM407.5 122.2h2.5v2.5h-2.5zM408.2 136.7h2.5v2.5h-2.5zM408.3 120.3h2.5v2.5h-2.5zM408.5 137.7h2.5v2.5h-2.5zM408.9 120.9h2.5v2.5h-2.5zM409.2 137.8h2.5v2.5h-2.5zM409.3 121.8h2.5v2.5h-2.5zM409.3 136.0h2.5v2.5h-2.5zM409.7 122.6h2.5v2.5h-2.5zM409.5 135.6h2.5v2.5h-2.5zM410.9 125.9h2.5v2.5h-2.5zM411.2 142.0h2.5v2.5h-2.5zM411.0 125.3h2.5v2.5h-2.5zM411.2 139.2h2.5v2.5h-2.5zM411.8 125.3h2.5v2.5h-2.5zM411.5 141.9h2.5v2.5h-2.5zM411.3 124.2h2.5v2.5h-2.5zM411.4 142.4h2.5v2.5h-2.5zM413.2 123.6h2.5v2.5h-2.5zM412.3 143.4h2.5v2.5h-2.5zM413.2 125.4h2.5v2.5h-2.5zM412.8 143.7h2.5v2.5h-2.5zM414.2 127.5h2.5v2.5h-2.5zM414.1 141.9h2.5v2.5h-2.5zM413.5 129.6h2.5v2.5h-2.5zM413.5 142.5h2.5v2.5h-2.5zM414.7 128.3h2.5v2.5h-2.5zM414.3 146.2h2.5v2.5h-2.5zM414.6 130.6h2.5v2.5h-2.5zM414.3 146.7h2.5v2.5h-2.5zM415.7 131.1h2.5v2.5h-2.5zM415.4 143.3h2.5v2.5h-2.5zM415.5 135.4h2.5v2.5h-2.5zM415.4 146.3h2.5v2.5h-2.5zM416.8 134.1h2.5v2.5h-2.5zM416.5 144.8h2.5v2.5h-2.5zM416.4 132.5h2.5v2.5h-2.5zM416.7 144.4h2.5v2.5h-2.5zM418.1 135.8h2.5v2.5h-2.5zM418.2 145.3h2.5v2.5h-2.5zM417.7 137.6h2.5v2.5h-2.5zM417.4 146.5h2.5v2.5h-2.5zM417.8 134.8h2.5v2.5h-2.5zM417.8 133.8h2.5v2.5h-2.5zM417.8 132.8h2.5v2.5h-2.5zM419.2 137.4h2.5v2.5h-2.5zM418.8 145.6h2.5v2.5h-2.5zM419.1 137.1h2.5v2.5h-2.5zM418.8 144.8h2.5v2.5h-2.5zM418.8 136.5h2.5v2.5h-2.5zM418.8 135.5h2.5v2.5h-2.5zM419.8 138.3h2.5v2.5h-2.5zM420.2 145.1h2.5v2.5h-2.5zM419.4 139.9h2.5v2.5h-2.5zM419.8 149.0h2.5v2.5h-2.5zM420.5 137.6h2.5v2.5h-2.5zM420.8 148.8h2.5v2.5h-2.5zM420.9 139.4h2.5v2.5h-2.5zM420.9 148.5h2.5v2.5h-2.5zM422.0 140.3h2.5v2.5h-2.5zM421.9 147.8h2.5v2.5h-2.5zM422.0 138.3h2.5v2.5h-2.5zM422.2 147.1h2.5v2.5h-2.5zM422.7 139.8h2.5v2.5h-2.5zM422.7 148.6h2.5v2.5h-2.5zM423.2 139.7h2.5v2.5h-2.5zM423.0 148.3h2.5v2.5h-2.5zM424.0 140.8h2.5v2.5h-2.5zM423.5 149.4h2.5v2.5h-2.5zM423.5 140.9h2.5v2.5h-2.5zM423.7 148.9h2.5v2.5h-2.5zM423.8 148.7h2.5v2.5h-2.5zM423.8 149.7h2.5v2.5h-2.5zM423.8 150.7h2.5v2.5h-2.5zM423.8 151.7h2.5v2.5h-2.5zM425.2 139.0h2.5v2.5h-2.5zM425.0 148.7h2.5v2.5h-2.5zM424.7 140.7h2.5v2.5h-2.5zM424.3 150.6h2.5v2.5h-2.5zM425.6 142.4h2.5v2.5h-2.5zM426.1 148.6h2.5v2.5h-2.5zM425.9 138.9h2.5v2.5h-2.5zM426.2 147.6h2.5v2.5h-2.5zM426.6 140.0h2.5v2.5h-2.5zM426.9 151.1h2.5v2.5h-2.5zM427.1 141.3h2.5v2.5h-2.5zM426.4 147.5h2.5v2.5h-2.5zM426.8 140.1h2.5v2.5h-2.5zM426.8 139.1h2.5v2.5h-2.5zM426.8 138.1h2.5v2.5h-2.5zM426.8 137.1h2.5v2.5h-2.5zM427.5 140.7h2.5v2.5h-2.5zM427.4 149.4h2.5v2.5h-2.5zM427.9 141.5h2.5v2.5h-2.5zM427.5 149.3h2.5v2.5h-2.5zM428.3 142.1h2.5v2.5h-2.5zM429.2 152.1h2.5v2.5h-2.5zM428.4 139.0h2.5v2.5h-2.5zM428.6 151.4h2.5v2.5h-2.5zM429.5 140.1h2.5v2.5h-2.5zM429.4 150.5h2.5v2.5h-2.5zM429.3 138.2h2.5v2.5h-2.5zM429.5 148.9h2.5v2.5h-2.5zM430.6 139.8h2.5v2.5h-2.5zM431.2 150.2h2.5v2.5h-2.5zM430.8 141.4h2.5v2.5h-2.5zM430.9 150.4h2.5v2.5h-2.5zM431.5 140.9h2.5v2.5h-2.5zM431.3 148.8h2.5v2.5h-2.5zM431.8 140.9h2.5v2.5h-2.5zM432.1 152.9h2.5v2.5h-2.5zM432.3 140.2h2.5v2.5h-2.5zM432.4 149.0h2.5v2.5h-2.5zM432.4 140.6h2.5v2.5h-2.5zM432.9 150.1h2.5v2.5h-2.5zM433.7 139.4h2.5v2.5h-2.5zM433.3 150.9h2.5v2.5h-2.5zM434.0 141.7h2.5v2.5h-2.5zM433.9 152.4h2.5v2.5h-2.5zM435.2 142.2h2.5v2.5h-2.5zM434.9 152.3h2.5v2.5h-2.5zM434.5 142.4h2.5v2.5h-2.5zM435.0 152.0h2.5v2.5h-2.5zM436.2 142.1h2.5v2.5h-2.5zM435.6 151.4h2.5v2.5h-2.5zM436.0 143.5h2.5v2.5h-2.5zM435.3 153.0h2.5v2.5h-2.5zM435.8 141.8h2.5v2.5h-2.5zM435.8 140.8h2.5v2.5h-2.5zM435.8 139.8h2.5v2.5h-2.5zM435.8 138.8h2.5v2.5h-2.5zM437.2 143.7h2.5v2.5h-2.5zM436.4 150.7h2.5v2.5h-2.5zM436.4 141.1h2.5v2.5h-2.5zM436.6 151.6h2.5v2.5h-2.5zM438.0 143.5h2.5v2.5h-2.5zM437.6 152.4h2.5v2.5h-2.5zM437.7 143.1h2.5v2.5h-2.5zM437.5 154.0h2.5v2.5h-2.5zM439.0 143.0h2.5v2.5h-2.5zM438.7 150.7h2.5v2.5h-2.5zM439.2 144.5h2.5v2.5h-2.5zM438.4 151.3h2.5v2.5h-2.5zM439.5 146.2h2.5v2.5h-2.5zM440.2 153.8h2.5v2.5h-2.5zM439.4 140.8h2.5v2.5h-2.5zM439.5 153.4h2.5v2.5h-2.5zM439.8 142.6h2.5v2.5h-2.5zM439.8 141.6h2.5v2.5h-2.5zM439.8 140.6h2.5v2.5h-2.5zM439.8 139.6h2.5v2.5h-2.5zM439.8 138.6h2.5v2.5h-2.5zM440.7 144.2h2.5v2.5h-2.5zM440.3 153.4h2.5v2.5h-2.5zM441.2 144.1h2.5v2.5h-2.5zM441.0 153.1h2.5v2.5h-2.5zM440.8 152.8h2.5v2.5h-2.5zM440.8 153.8h2.5v2.5h-2.5zM441.4 140.2h2.5v2.5h-2.5zM441.4 152.4h2.5v2.5h-2.5zM441.4 142.7h2.5v2.5h-2.5zM441.6 151.5h2.5v2.5h-2.5zM443.2 143.4h2.5v2.5h-2.5zM443.0 153.5h2.5v2.5h-2.5zM443.1 143.8h2.5v2.5h-2.5zM443.2 152.0h2.5v2.5h-2.5zM443.7 143.3h2.5v2.5h-2.5zM443.4 151.8h2.5v2.5h-2.5zM443.4 144.4h2.5v2.5h-2.5zM444.1 153.7h2.5v2.5h-2.5zM444.5 140.5h2.5v2.5h-2.5zM444.4 155.6h2.5v2.5h-2.5zM445.1 144.1h2.5v2.5h-2.5zM445.0 155.6h2.5v2.5h-2.5zM445.7 145.7h2.5v2.5h-2.5zM445.8 151.9h2.5v2.5h-2.5zM445.3 144.7h2.5v2.5h-2.5zM446.1 152.4h2.5v2.5h-2.5zM447.1 145.6h2.5v2.5h-2.5zM446.6 153.4h2.5v2.5h-2.5zM446.6 144.4h2.5v2.5h-2.5zM446.4 155.3h2.5v2.5h-2.5zM447.7 143.1h2.5v2.5h-2.5zM448.0 153.3h2.5v2.5h-2.5zM447.5 146.9h2.5v2.5h-2.5zM448.2 154.2h2.5v2.5h-2.5zM449.1 145.6h2.5v2.5h-2.5zM448.6 157.0h2.5v2.5h-2.5zM449.1 146.7h2.5v2.5h-2.5zM448.6 156.3h2.5v2.5h-2.5zM450.1 147.6h2.5v2.5h-2.5zM449.4 153.9h2.5v2.5h-2.5zM450.2 146.0h2.5v2.5h-2.5zM449.9 154.1h2.5v2.5h-2.5zM449.8 146.1h2.5v2.5h-2.5zM449.8 145.1h2.5v2.5h-2.5zM449.8 144.1h2.5v2.5h-2.5zM449.8 143.1h2.5v2.5h-2.5zM449.8 142.1h2.5v2.5h-2.5zM450.7 145.3h2.5v2.5h-2.5zM451.0 157.0h2.5v2.5h-2.5zM451.1 146.8h2.5v2.5h-2.5zM450.5 156.3h2.5v2.5h-2.5zM450.8 146.5h2.5v2.5h-2.5zM450.8 145.5h2.5v2.5h-2.5zM450.8 144.5h2.5v2.5h-2.5zM450.8 155.1h2.5v2.5h-2.5zM450.8 156.1h2.5v2.5h-2.5zM450.8 157.1h2.5v2.5h-2.5zM450.8 158.1h2.5v2.5h-2.5zM450.8 159.1h2.5v2.5h-2.5zM451.5 147.5h2.5v2.5h-2.5zM452.0 155.4h2.5v2.5h-2.5zM451.4 145.7h2.5v2.5h-2.5zM452.1 155.5h2.5v2.5h-2.5zM452.9 147.1h2.5v2.5h-2.5zM453.1 155.2h2.5v2.5h-2.5zM453.0 144.9h2.5v2.5h-2.5zM452.8 158.6h2.5v2.5h-2.5zM452.8 145.9h2.5v2.5h-2.5zM452.8 144.9h2.5v2.5h-2.5zM452.8 143.9h2.5v2.5h-2.5zM452.8 142.9h2.5v2.5h-2.5zM453.8 144.3h2.5v2.5h-2.5zM454.1 157.1h2.5v2.5h-2.5zM453.9 145.9h2.5v2.5h-2.5zM453.6 158.2h2.5v2.5h-2.5zM454.4 145.5h2.5v2.5h-2.5zM454.8 156.2h2.5v2.5h-2.5zM454.7 144.9h2.5v2.5h-2.5zM454.3 155.1h2.5v2.5h-2.5zM456.0 145.7h2.5v2.5h-2.5zM456.0 157.9h2.5v2.5h-2.5zM456.1 146.8h2.5v2.5h-2.5zM456.2 159.8h2.5v2.5h-2.5zM457.0 146.8h2.5v2.5h-2.5zM456.6 155.8h2.5v2.5h-2.5zM456.6 145.9h2.5v2.5h-2.5zM456.8 155.3h2.5v2.5h-2.5zM457.4 151.7h2.5v2.5h-2.5zM457.8 154.6h2.5v2.5h-2.5zM458.0 147.2h2.5v2.5h-2.5zM457.8 158.8h2.5v2.5h-2.5zM458.6 147.5h2.5v2.5h-2.5zM458.3 155.8h2.5v2.5h-2.5zM458.8 148.9h2.5v2.5h-2.5zM459.2 154.6h2.5v2.5h-2.5zM459.8 148.7h2.5v2.5h-2.5zM460.1 157.3h2.5v2.5h-2.5zM459.7 146.8h2.5v2.5h-2.5zM459.5 155.2h2.5v2.5h-2.5zM460.7 148.2h2.5v2.5h-2.5zM460.6 156.4h2.5v2.5h-2.5zM461.0 148.0h2.5v2.5h-2.5zM460.5 155.4h2.5v2.5h-2.5zM461.9 148.0h2.5v2.5h-2.5zM461.8 155.8h2.5v2.5h-2.5zM462.0 147.3h2.5v2.5h-2.5zM462.0 154.3h2.5v2.5h-2.5zM463.2 149.8h2.5v2.5h-2.5zM462.7 157.6h2.5v2.5h-2.5zM462.3 149.0h2.5v2.5h-2.5zM462.9 157.6h2.5v2.5h-2.5zM463.9 149.0h2.5v2.5h-2.5zM464.0 157.9h2.5v2.5h-2.5zM463.5 148.1h2.5v2.5h-2.5zM463.7 158.7h2.5v2.5h-2.5zM464.4 147.8h2.5v2.5h-2.5zM464.4 158.7h2.5v2.5h-2.5zM464.6 146.9h2.5v2.5h-2.5zM464.7 158.2h2.5v2.5h-2.5zM465.7 150.5h2.5v2.5h-2.5zM465.4 158.0h2.5v2.5h-2.5zM465.8 149.6h2.5v2.5h-2.5zM465.3 159.1h2.5v2.5h-2.5zM466.7 148.6h2.5v2.5h-2.5zM466.6 160.7h2.5v2.5h-2.5zM466.9 148.9h2.5v2.5h-2.5zM467.1 160.1h2.5v2.5h-2.5zM466.8 159.6h2.5v2.5h-2.5zM466.8 160.6h2.5v2.5h-2.5zM466.8 161.6h2.5v2.5h-2.5zM466.8 162.6h2.5v2.5h-2.5zM466.8 163.6h2.5v2.5h-2.5zM468.0 149.0h2.5v2.5h-2.5zM468.2 160.8h2.5v2.5h-2.5zM467.7 149.1h2.5v2.5h-2.5zM467.8 159.8h2.5v2.5h-2.5zM469.2 149.8h2.5v2.5h-2.5zM469.1 160.6h2.5v2.5h-2.5zM469.0 147.4h2.5v2.5h-2.5zM468.6 158.6h2.5v2.5h-2.5zM469.7 149.9h2.5v2.5h-2.5zM470.1 161.5h2.5v2.5h-2.5zM470.1 150.7h2.5v2.5h-2.5zM469.7 161.1h2.5v2.5h-2.5zM471.1 148.4h2.5v2.5h-2.5zM471.2 161.5h2.5v2.5h-2.5zM470.9 148.2h2.5v2.5h-2.5zM470.6 160.4h2.5v2.5h-2.5zM471.5 149.5h2.5v2.5h-2.5zM471.6 160.6h2.5v2.5h-2.5zM472.2 149.4h2.5v2.5h-2.5zM471.6 159.4h2.5v2.5h-2.5zM472.9 150.1h2.5v2.5h-2.5zM472.3 159.7h2.5v2.5h-2.5zM473.1 149.8h2.5v2.5h-2.5zM472.3 160.4h2.5v2.5h-2.5zM474.0 151.5h2.5v2.5h-2.5zM473.8 159.2h2.5v2.5h-2.5zM474.2 151.4h2.5v2.5h-2.5zM473.7 162.4h2.5v2.5h-2.5zM475.1 149.0h2.5v2.5h-2.5zM475.1 160.7h2.5v2.5h-2.5zM475.0 146.5h2.5v2.5h-2.5zM474.3 158.3h2.5v2.5h-2.5zM474.8 149.4h2.5v2.5h-2.5zM474.8 148.4h2.5v2.5h-2.5zM474.8 160.3h2.5v2.5h-2.5zM474.8 161.3h2.5v2.5h-2.5zM474.8 162.3h2.5v2.5h-2.5zM474.8 163.3h2.5v2.5h-2.5zM475.9 149.1h2.5v2.5h-2.5zM475.4 161.2h2.5v2.5h-2.5zM475.9 146.9h2.5v2.5h-2.5zM475.6 157.6h2.5v2.5h-2.5zM476.6 149.3h2.5v2.5h-2.5zM477.2 162.0h2.5v2.5h-2.5zM477.2 149.1h2.5v2.5h-2.5zM476.4 160.2h2.5v2.5h-2.5zM478.0 151.1h2.5v2.5h-2.5zM477.9 160.9h2.5v2.5h-2.5zM477.3 147.5h2.5v2.5h-2.5zM477.8 161.2h2.5v2.5h-2.5zM478.9 149.7h2.5v2.5h-2.5zM479.2 162.0h2.5v2.5h-2.5zM479.1 151.9h2.5v2.5h-2.5zM478.4 160.0h2.5v2.5h-2.5zM479.9 151.4h2.5v2.5h-2.5zM480.0 161.0h2.5v2.5h-2.5zM479.8 151.4h2.5v2.5h-2.5zM479.7 161.0h2.5v2.5h-2.5zM481.0 145.4h2.5v2.5h-2.5zM481.2 161.5h2.5v2.5h-2.5zM481.2 147.3h2.5v2.5h-2.5zM480.6 158.9h2.5v2.5h-2.5zM482.0 149.6h2.5v2.5h-2.5zM482.2 157.5h2.5v2.5h-2.5zM481.9 148.1h2.5v2.5h-2.5zM481.5 161.8h2.5v2.5h-2.5zM483.1 147.0h2.5v2.5h-2.5zM483.2 160.9h2.5v2.5h-2.5zM482.3 150.0h2.5v2.5h-2.5zM482.4 159.9h2.5v2.5h-2.5zM484.2 147.4h2.5v2.5h-2.5zM484.2 159.3h2.5v2.5h-2.5zM483.3 148.7h2.5v2.5h-2.5zM483.5 159.4h2.5v2.5h-2.5zM483.8 148.6h2.5v2.5h-2.5zM483.8 147.6h2.5v2.5h-2.5zM483.8 146.6h2.5v2.5h-2.5zM483.8 145.6h2.5v2.5h-2.5zM483.8 144.6h2.5v2.5h-2.5zM485.0 148.7h2.5v2.5h-2.5zM484.9 162.1h2.5v2.5h-2.5zM484.3 146.7h2.5v2.5h-2.5zM484.5 160.1h2.5v2.5h-2.5zM485.6 151.1h2.5v2.5h-2.5zM486.2 158.3h2.5v2.5h-2.5zM485.7 146.3h2.5v2.5h-2.5zM486.0 158.8h2.5v2.5h-2.5zM486.7 150.0h2.5v2.5h-2.5zM486.4 160.5h2.5v2.5h-2.5zM487.0 149.8h2.5v2.5h-2.5zM486.3 162.5h2.5v2.5h-2.5zM488.0 150.1h2.5v2.5h-2.5zM487.6 163.2h2.5v2.5h-2.5zM487.5 148.9h2.5v2.5h-2.5zM487.7 161.6h2.5v2.5h-2.5zM487.8 148.8h2.5v2.5h-2.5zM487.8 147.8h2.5v2.5h-2.5zM487.8 146.8h2.5v2.5h-2.5zM487.8 145.8h2.5v2.5h-2.5zM487.8 144.8h2.5v2.5h-2.5zM488.3 148.1h2.5v2.5h-2.5zM489.0 162.1h2.5v2.5h-2.5zM489.0 147.9h2.5v2.5h-2.5zM488.4 164.3h2.5v2.5h-2.5zM489.4 151.3h2.5v2.5h-2.5zM489.6 163.3h2.5v2.5h-2.5zM489.4 152.0h2.5v2.5h-2.5zM490.0 161.3h2.5v2.5h-2.5zM490.5 152.2h2.5v2.5h-2.5zM491.2 160.6h2.5v2.5h-2.5zM491.0 149.6h2.5v2.5h-2.5zM491.1 160.4h2.5v2.5h-2.5zM490.8 161.6h2.5v2.5h-2.5zM490.8 162.6h2.5v2.5h-2.5zM490.8 163.6h2.5v2.5h-2.5zM490.8 164.6h2.5v2.5h-2.5zM490.8 165.6h2.5v2.5h-2.5zM492.1 151.1h2.5v2.5h-2.5zM491.5 160.9h2.5v2.5h-2.5zM491.7 153.4h2.5v2.5h-2.5zM492.2 159.9h2.5v2.5h-2.5zM492.8 152.2h2.5v2.5h-2.5zM492.4 162.9h2.5v2.5h-2.5zM492.7 151.8h2.5v2.5h-2.5zM492.6 162.5h2.5v2.5h-2.5zM493.8 155.3h2.5v2.5h-2.5zM493.6 165.7h2.5v2.5h-2.5zM494.2 154.6h2.5v2.5h-2.5zM493.8 163.3h2.5v2.5h-2.5zM494.8 154.0h2.5v2.5h-2.5zM494.5 165.2h2.5v2.5h-2.5zM494.4 153.8h2.5v2.5h-2.5zM494.8 166.7h2.5v2.5h-2.5zM495.6 154.3h2.5v2.5h-2.5zM495.8 164.6h2.5v2.5h-2.5zM496.1 152.0h2.5v2.5h-2.5zM495.9 164.1h2.5v2.5h-2.5zM496.5 153.1h2.5v2.5h-2.5zM496.3 163.4h2.5v2.5h-2.5zM496.8 153.1h2.5v2.5h-2.5zM496.4 164.9h2.5v2.5h-2.5zM497.9 156.5h2.5v2.5h-2.5zM497.9 161.2h2.5v2.5h-2.5zM498.0 153.3h2.5v2.5h-2.5zM497.7 163.1h2.5v2.5h-2.5zM498.8 153.0h2.5v2.5h-2.5zM499.2 162.6h2.5v2.5h-2.5zM498.8 151.8h2.5v2.5h-2.5zM498.5 162.4h2.5v2.5h-2.5zM499.4 152.6h2.5v2.5h-2.5zM500.1 161.6h2.5v2.5h-2.5zM499.8 150.2h2.5v2.5h-2.5zM499.7 165.1h2.5v2.5h-2.5zM499.8 162.0h2.5v2.5h-2.5zM499.8 163.0h2.5v2.5h-2.5zM499.8 164.0h2.5v2.5h-2.5zM499.8 165.0h2.5v2.5h-2.5zM499.8 166.0h2.5v2.5h-2.5zM501.2 152.5h2.5v2.5h-2.5zM500.5 163.4h2.5v2.5h-2.5zM500.4 149.5h2.5v2.5h-2.5zM501.2 163.5h2.5v2.5h-2.5zM501.9 149.4h2.5v2.5h-2.5zM502.0 161.6h2.5v2.5h-2.5zM501.8 148.1h2.5v2.5h-2.5zM501.5 164.4h2.5v2.5h-2.5zM502.4 147.3h2.5v2.5h-2.5zM502.4 159.6h2.5v2.5h-2.5zM502.8 147.8h2.5v2.5h-2.5zM502.7 160.0h2.5v2.5h-2.5zM502.8 160.8h2.5v2.5h-2.5zM502.8 161.8h2.5v2.5h-2.5zM503.7 149.7h2.5v2.5h-2.5zM503.5 163.3h2.5v2.5h-2.5zM504.1 149.5h2.5v2.5h-2.5zM503.7 161.7h2.5v2.5h-2.5zM505.0 150.7h2.5v2.5h-2.5zM505.1 163.6h2.5v2.5h-2.5zM504.7 147.4h2.5v2.5h-2.5zM504.9 161.7h2.5v2.5h-2.5zM504.8 161.7h2.5v2.5h-2.5zM504.8 162.7h2.5v2.5h-2.5zM505.6 152.4h2.5v2.5h-2.5zM505.7 163.0h2.5v2.5h-2.5zM505.6 147.8h2.5v2.5h-2.5zM505.5 161.7h2.5v2.5h-2.5zM506.6 154.0h2.5v2.5h-2.5zM506.7 161.4h2.5v2.5h-2.5zM506.4 152.9h2.5v2.5h-2.5zM507.1 162.7h2.5v2.5h-2.5zM507.9 155.1h2.5v2.5h-2.5zM507.6 164.8h2.5v2.5h-2.5zM507.4 153.5h2.5v2.5h-2.5zM507.8 162.2h2.5v2.5h-2.5zM508.7 153.5h2.5v2.5h-2.5zM509.2 164.0h2.5v2.5h-2.5zM508.3 154.0h2.5v2.5h-2.5zM508.4 165.8h2.5v2.5h-2.5zM508.8 153.8h2.5v2.5h-2.5zM508.8 152.8h2.5v2.5h-2.5zM508.8 151.8h2.5v2.5h-2.5zM508.8 150.8h2.5v2.5h-2.5zM509.6 154.4h2.5v2.5h-2.5zM509.5 168.1h2.5v2.5h-2.5zM509.7 154.0h2.5v2.5h-2.5zM509.4 164.9h2.5v2.5h-2.5zM509.8 154.6h2.5v2.5h-2.5zM509.8 153.6h2.5v2.5h-2.5zM509.8 152.6h2.5v2.5h-2.5zM509.8 151.6h2.5v2.5h-2.5zM511.2 156.3h2.5v2.5h-2.5zM510.7 166.9h2.5v2.5h-2.5zM510.4 154.3h2.5v2.5h-2.5zM511.1 164.7h2.5v2.5h-2.5zM512.1 154.3h2.5v2.5h-2.5zM511.7 167.0h2.5v2.5h-2.5zM511.4 154.2h2.5v2.5h-2.5zM511.8 165.1h2.5v2.5h-2.5zM511.8 166.9h2.5v2.5h-2.5zM511.8 167.9h2.5v2.5h-2.5zM511.8 168.9h2.5v2.5h-2.5zM511.8 169.9h2.5v2.5h-2.5zM513.1 155.0h2.5v2.5h-2.5zM512.3 166.7h2.5v2.5h-2.5zM512.8 153.9h2.5v2.5h-2.5zM512.9 164.8h2.5v2.5h-2.5zM513.5 156.0h2.5v2.5h-2.5zM513.3 166.6h2.5v2.5h-2.5zM513.3 154.2h2.5v2.5h-2.5zM513.9 164.2h2.5v2.5h-2.5zM515.0 155.1h2.5v2.5h-2.5zM514.9 168.3h2.5v2.5h-2.5zM514.3 155.4h2.5v2.5h-2.5zM515.1 167.8h2.5v2.5h-2.5zM516.2 156.1h2.5v2.5h-2.5zM515.8 164.1h2.5v2.5h-2.5zM516.2 153.5h2.5v2.5h-2.5zM515.8 164.1h2.5v2.5h-2.5zM516.7 155.4h2.5v2.5h-2.5zM516.8 166.9h2.5v2.5h-2.5zM516.8 156.2h2.5v2.5h-2.5zM516.8 166.9h2.5v2.5h-2.5zM517.9 155.3h2.5v2.5h-2.5zM517.5 167.6h2.5v2.5h-2.5zM518.0 154.1h2.5v2.5h-2.5zM517.8 164.0h2.5v2.5h-2.5zM518.8 153.2h2.5v2.5h-2.5zM518.7 166.7h2.5v2.5h-2.5zM519.0 154.6h2.5v2.5h-2.5zM519.0 164.6h2.5v2.5h-2.5zM519.6 153.8h2.5v2.5h-2.5zM520.0 167.7h2.5v2.5h-2.5zM520.0 154.5h2.5v2.5h-2.5zM520.0 167.4h2.5v2.5h-2.5zM520.9 155.4h2.5v2.5h-2.5zM520.3 166.7h2.5v2.5h-2.5zM520.6 159.1h2.5v2.5h-2.5zM520.8 168.4h2.5v2.5h-2.5zM522.1 155.8h2.5v2.5h-2.5zM521.4 168.5h2.5v2.5h-2.5zM522.0 155.5h2.5v2.5h-2.5zM521.6 165.8h2.5v2.5h-2.5zM523.0 158.4h2.5v2.5h-2.5zM523.1 166.8h2.5v2.5h-2.5zM522.7 155.4h2.5v2.5h-2.5zM523.2 168.9h2.5v2.5h-2.5zM523.5 160.1h2.5v2.5h-2.5zM523.6 167.5h2.5v2.5h-2.5zM524.1 158.9h2.5v2.5h-2.5zM523.4 167.8h2.5v2.5h-2.5zM524.4 160.2h2.5v2.5h-2.5zM524.6 168.0h2.5v2.5h-2.5zM524.8 159.1h2.5v2.5h-2.5zM524.6 169.0h2.5v2.5h-2.5zM524.8 168.8h2.5v2.5h-2.5zM524.8 169.8h2.5v2.5h-2.5zM524.8 170.8h2.5v2.5h-2.5zM526.0 158.8h2.5v2.5h-2.5zM525.9 171.5h2.5v2.5h-2.5zM525.4 161.8h2.5v2.5h-2.5zM525.9 170.1h2.5v2.5h-2.5zM527.1 160.5h2.5v2.5h-2.5zM526.8 169.4h2.5v2.5h-2.5zM526.8 159.6h2.5v2.5h-2.5zM526.6 170.2h2.5v2.5h-2.5zM527.8 161.9h2.5v2.5h-2.5zM527.6 171.2h2.5v2.5h-2.5zM527.7 159.4h2.5v2.5h-2.5zM527.4 172.7h2.5v2.5h-2.5zM529.1 161.3h2.5v2.5h-2.5zM528.6 172.1h2.5v2.5h-2.5zM528.3 161.9h2.5v2.5h-2.5zM528.5 168.1h2.5v2.5h-2.5zM530.2 163.4h2.5v2.5h-2.5zM529.5 171.3h2.5v2.5h-2.5zM529.9 162.6h2.5v2.5h-2.5zM529.8 168.4h2.5v2.5h-2.5zM530.4 162.0h2.5v2.5h-2.5zM530.7 174.3h2.5v2.5h-2.5zM531.2 163.3h2.5v2.5h-2.5zM530.5 172.9h2.5v2.5h-2.5zM530.8 162.1h2.5v2.5h-2.5zM530.8 161.1h2.5v2.5h-2.5zM530.8 172.2h2.5v2.5h-2.5zM530.8 173.2h2.5v2.5h-2.5zM530.8 174.2h2.5v2.5h-2.5zM531.7 162.6h2.5v2.5h-2.5zM532.0 172.3h2.5v2.5h-2.5zM531.8 164.5h2.5v2.5h-2.5zM531.8 172.3h2.5v2.5h-2.5zM533.1 165.0h2.5v2.5h-2.5zM532.6 176.2h2.5v2.5h-2.5zM532.6 163.1h2.5v2.5h-2.5zM532.5 172.5h2.5v2.5h-2.5zM532.8 164.3h2.5v2.5h-2.5zM532.8 163.3h2.5v2.5h-2.5zM532.8 162.3h2.5v2.5h-2.5zM532.8 161.3h2.5v2.5h-2.5zM532.8 160.3h2.5v2.5h-2.5zM533.4 163.7h2.5v2.5h-2.5zM533.6 172.4h2.5v2.5h-2.5zM533.6 165.2h2.5v2.5h-2.5zM533.7 172.8h2.5v2.5h-2.5zM534.7 166.8h2.5v2.5h-2.5zM534.9 176.9h2.5v2.5h-2.5zM534.7 165.0h2.5v2.5h-2.5zM535.0 175.8h2.5v2.5h-2.5zM535.6 165.8h2.5v2.5h-2.5zM535.5 174.8h2.5v2.5h-2.5zM536.2 165.0h2.5v2.5h-2.5zM535.7 173.3h2.5v2.5h-2.5zM536.4 164.9h2.5v2.5h-2.5zM536.5 174.7h2.5v2.5h-2.5zM536.9 167.3h2.5v2.5h-2.5zM536.4 177.6h2.5v2.5h-2.5zM537.8 167.3h2.5v2.5h-2.5zM537.9 177.5h2.5v2.5h-2.5zM537.4 165.6h2.5v2.5h-2.5zM537.8 178.2h2.5v2.5h-2.5zM538.8 166.6h2.5v2.5h-2.5zM539.1 177.5h2.5v2.5h-2.5zM538.8 166.4h2.5v2.5h-2.5zM538.7 174.9h2.5v2.5h-2.5zM539.9 166.9h2.5v2.5h-2.5zM539.3 178.2h2.5v2.5h-2.5zM540.2 167.6h2.5v2.5h-2.5zM539.5 176.8h2.5v2.5h-2.5zM541.1 165.8h2.5v2.5h-2.5zM541.1 176.3h2.5v2.5h-2.5zM540.7 167.0h2.5v2.5h-2.5zM540.8 174.6h2.5v2.5h-2.5zM542.1 165.5h2.5v2.5h-2.5zM541.6 176.2h2.5v2.5h-2.5zM541.3 167.3h2.5v2.5h-2.5zM541.4 176.7h2.5v2.5h-2.5zM542.5 169.3h2.5v2.5h-2.5zM543.1 175.6h2.5v2.5h-2.5zM543.2 164.7h2.5v2.5h-2.5zM542.5 177.8h2.5v2.5h-2.5zM544.0 166.9h2.5v2.5h-2.5zM544.2 178.1h2.5v2.5h-2.5zM543.8 164.9h2.5v2.5h-2.5zM543.4 175.8h2.5v2.5h-2.5zM545.0 166.1h2.5v2.5h-2.5zM545.2 178.2h2.5v2.5h-2.5zM544.5 166.8h2.5v2.5h-2.5zM544.5 175.5h2.5v2.5h-2.5zM545.5 167.6h2.5v2.5h-2.5zM545.6 180.2h2.5v2.5h-2.5zM545.8 166.6h2.5v2.5h-2.5zM546.0 177.0h2.5v2.5h-2.5zM546.6 168.1h2.5v2.5h-2.5zM547.0 178.4h2.5v2.5h-2.5zM546.9 166.4h2.5v2.5h-2.5zM546.4 178.1h2.5v2.5h-2.5zM547.8 167.4h2.5v2.5h-2.5zM548.0 177.2h2.5v2.5h-2.5zM547.6 167.4h2.5v2.5h-2.5zM547.5 177.5h2.5v2.5h-2.5zM548.6 167.1h2.5v2.5h-2.5zM548.7 177.6h2.5v2.5h-2.5zM548.3 168.2h2.5v2.5h-2.5zM549.1 177.1h2.5v2.5h-2.5zM549.9 169.4h2.5v2.5h-2.5zM549.5 179.5h2.5v2.5h-2.5zM550.1 168.3h2.5v2.5h-2.5zM550.1 176.0h2.5v2.5h-2.5zM551.2 168.5h2.5v2.5h-2.5zM550.7 178.0h2.5v2.5h-2.5zM550.8 168.8h2.5v2.5h-2.5zM551.1 178.2h2.5v2.5h-2.5zM551.4 166.7h2.5v2.5h-2.5zM551.7 177.5h2.5v2.5h-2.5zM551.8 166.0h2.5v2.5h-2.5zM552.1 178.5h2.5v2.5h-2.5zM551.8 167.5h2.5v2.5h-2.5zM551.8 166.5h2.5v2.5h-2.5zM551.8 165.5h2.5v2.5h-2.5zM551.8 164.5h2.5v2.5h-2.5zM551.8 163.5h2.5v2.5h-2.5zM552.3 167.8h2.5v2.5h-2.5zM552.8 175.6h2.5v2.5h-2.5zM552.5 167.8h2.5v2.5h-2.5zM553.0 176.2h2.5v2.5h-2.5zM553.9 165.2h2.5v2.5h-2.5zM553.3 178.7h2.5v2.5h-2.5zM553.9 166.0h2.5v2.5h-2.5zM553.8 176.9h2.5v2.5h-2.5zM553.8 177.6h2.5v2.5h-2.5zM553.8 178.6h2.5v2.5h-2.5zM553.8 179.6h2.5v2.5h-2.5zM553.8 180.6h2.5v2.5h-2.5zM553.8 181.6h2.5v2.5h-2.5zM555.1 167.3h2.5v2.5h-2.5zM554.3 176.5h2.5v2.5h-2.5zM554.5 167.7h2.5v2.5h-2.5zM554.5 176.9h2.5v2.5h-2.5zM555.6 165.5h2.5v2.5h-2.5zM555.4 174.7h2.5v2.5h-2.5zM555.5 166.2h2.5v2.5h-2.5zM555.4 176.8h2.5v2.5h-2.5zM557.2 165.0h2.5v2.5h-2.5zM557.0 175.5h2.5v2.5h-2.5zM556.7 166.0h2.5v2.5h-2.5zM556.6 174.7h2.5v2.5h-2.5zM556.8 164.9h2.5v2.5h-2.5zM556.8 163.9h2.5v2.5h-2.5zM556.8 162.9h2.5v2.5h-2.5zM556.8 161.9h2.5v2.5h-2.5zM556.8 160.9h2.5v2.5h-2.5zM557.7 161.8h2.5v2.5h-2.5zM558.1 175.6h2.5v2.5h-2.5zM557.7 164.4h2.5v2.5h-2.5zM558.1 176.0h2.5v2.5h-2.5zM39.2 59.1h2.5v2.5h-2.5zM39.3 58.7h2.5v2.5h-2.5zM39.2 59.7h2.5v2.5h-2.5zM38.5 58.9h2.5v2.5h-2.5zM39.8 59.9h2.5v2.5h-2.5zM38.4 59.4h2.5v2.5h-2.5zM39.4 59.7h2.5v2.5h-2.5zM48.3 60.9h2.5v2.5h-2.5zM47.3 62.3h2.5v2.5h-2.5zM49.9 61.1h2.5v2.5h-2.5zM49.4 62.2h2.5v2.5h-2.5zM49.5 60.6h2.5v2.5h-2.5zM48.1 61.4h2.5v2.5h-2.5zM49.1 61.4h2.5v2.5h-2.5zM46.2 62.2h2.5v2.5h-2.5zM47.2 62.5h2.5v2.5h-2.5zM47.3 61.9h2.5v2.5h-2.5zM50.4 60.8h2.5v2.5h-2.5zM49.9 60.7h2.5v2.5h-2.5zM51.2 60.6h2.5v2.5h-2.5zM49.9 61.5h2.5v2.5h-2.5zM46.5 61.5h2.5v2.5h-2.5zM48.5 61.6h2.5v2.5h-2.5zM46.2 61.9h2.5v2.5h-2.5zM47.3 63.0h2.5v2.5h-2.5zM35.8 66.0h2.5v2.5h-2.5zM35.8 66.2h2.5v2.5h-2.5zM35.8 66.1h2.5v2.5h-2.5zM35.8 65.9h2.5v2.5h-2.5zM41.2 66.5h2.5v2.5h-2.5zM41.2 66.5h2.5v2.5h-2.5zM41.2 66.3h2.5v2.5h-2.5zM42.9 70.2h2.5v2.5h-2.5zM43.1 70.2h2.5v2.5h-2.5zM42.8 70.2h2.5v2.5h-2.5zM43.0 70.2h2.5v2.5h-2.5zM61.3 69.6h2.5v2.5h-2.5zM58.0 70.1h2.5v2.5h-2.5zM53.0 70.2h2.5v2.5h-2.5zM61.4 69.8h2.5v2.5h-2.5zM58.3 70.8h2.5v2.5h-2.5zM53.3 71.4h2.5v2.5h-2.5zM53.7 69.8h2.5v2.5h-2.5zM59.5 69.1h2.5v2.5h-2.5zM56.3 69.4h2.5v2.5h-2.5zM57.2 69.1h2.5v2.5h-2.5zM54.1 69.6h2.5v2.5h-2.5zM53.4 69.3h2.5v2.5h-2.5zM54.5 70.3h2.5v2.5h-2.5zM54.0 71.1h2.5v2.5h-2.5zM56.7 69.7h2.5v2.5h-2.5zM55.0 71.1h2.5v2.5h-2.5zM53.1 70.9h2.5v2.5h-2.5zM53.6 71.4h2.5v2.5h-2.5zM56.6 70.5h2.5v2.5h-2.5zM60.9 69.3h2.5v2.5h-2.5zM53.3 70.8h2.5v2.5h-2.5zM58.3 70.9h2.5v2.5h-2.5zM55.3 70.3h2.5v2.5h-2.5zM54.4 70.1h2.5v2.5h-2.5zM55.4 70.5h2.5v2.5h-2.5zM54.4 74.8h2.5v2.5h-2.5zM54.6 74.8h2.5v2.5h-2.5zM54.7 74.8h2.5v2.5h-2.5zM54.4 74.8h2.5v2.5h-2.5zM61.8 73.0h2.5v2.5h-2.5zM62.6 72.7h2.5v2.5h-2.5zM61.4 74.0h2.5v2.5h-2.5zM60.8 74.2h2.5v2.5h-2.5zM63.3 74.2h2.5v2.5h-2.5zM63.5 72.4h2.5v2.5h-2.5zM63.0 73.3h2.5v2.5h-2.5zM60.6 74.2h2.5v2.5h-2.5zM62.3 73.8h2.5v2.5h-2.5zM62.0 71.9h2.5v2.5h-2.5zM63.2 72.2h2.5v2.5h-2.5zM60.8 73.3h2.5v2.5h-2.5zM60.5 72.9h2.5v2.5h-2.5zM62.6 72.0h2.5v2.5h-2.5zM67.1 76.0h2.5v2.5h-2.5zM66.7 77.4h2.5v2.5h-2.5zM67.1 75.9h2.5v2.5h-2.5zM66.1 78.2h2.5v2.5h-2.5zM66.5 76.8h2.5v2.5h-2.5zM66.5 77.5h2.5v2.5h-2.5zM67.2 77.4h2.5v2.5h-2.5zM66.6 77.2h2.5v2.5h-2.5zM66.8 76.2h2.5v2.5h-2.5zM67.6 78.2h2.5v2.5h-2.5zM74.8 85.8h2.5v2.5h-2.5zM72.4 85.2h2.5v2.5h-2.5zM70.6 84.7h2.5v2.5h-2.5zM74.3 85.6h2.5v2.5h-2.5zM75.3 85.3h2.5v2.5h-2.5zM70.8 84.9h2.5v2.5h-2.5zM72.5 82.9h2.5v2.5h-2.5zM71.6 85.0h2.5v2.5h-2.5zM75.3 85.2h2.5v2.5h-2.5zM74.0 82.3h2.5v2.5h-2.5zM70.0 84.0h2.5v2.5h-2.5zM70.4 83.0h2.5v2.5h-2.5zM69.5 82.2h2.5v2.5h-2.5zM74.3 82.5h2.5v2.5h-2.5zM75.4 83.0h2.5v2.5h-2.5zM75.4 82.9h2.5v2.5h-2.5zM70.8 83.2h2.5v2.5h-2.5zM68.8 83.4h2.5v2.5h-2.5zM71.7 81.6h2.5v2.5h-2.5zM75.5 83.2h2.5v2.5h-2.5zM68.8 85.7h2.5v2.5h-2.5zM70.5 82.6h2.5v2.5h-2.5zM68.9 82.0h2.5v2.5h-2.5zM74.3 84.1h2.5v2.5h-2.5zM72.7 82.6h2.5v2.5h-2.5zM71.0 85.7h2.5v2.5h-2.5zM71.7 85.8h2.5v2.5h-2.5zM75.7 82.1h2.5v2.5h-2.5zM75.4 81.6h2.5v2.5h-2.5zM74.3 85.0h2.5v2.5h-2.5zM73.1 80.3h2.5v2.5h-2.5zM73.4 79.9h2.5v2.5h-2.5zM72.8 80.0h2.5v2.5h-2.5zM72.5 79.9h2.5v2.5h-2.5zM73.2 80.3h2.5v2.5h-2.5zM73.3 80.4h2.5v2.5h-2.5zM72.9 80.7h2.5v2.5h-2.5zM82.9 91.5h2.5v2.5h-2.5zM80.9 92.0h2.5v2.5h-2.5zM81.0 90.7h2.5v2.5h-2.5zM80.9 91.7h2.5v2.5h-2.5zM83.5 91.6h2.5v2.5h-2.5zM82.3 92.0h2.5v2.5h-2.5zM82.8 91.3h2.5v2.5h-2.5zM81.4 91.8h2.5v2.5h-2.5zM80.8 90.7h2.5v2.5h-2.5zM82.1 91.8h2.5v2.5h-2.5zM80.5 91.6h2.5v2.5h-2.5zM83.3 90.8h2.5v2.5h-2.5zM83.2 89.2h2.5v2.5h-2.5zM83.8 89.7h2.5v2.5h-2.5zM85.7 89.2h2.5v2.5h-2.5zM85.1 89.4h2.5v2.5h-2.5zM83.3 89.7h2.5v2.5h-2.5zM83.3 88.8h2.5v2.5h-2.5zM84.1 88.8h2.5v2.5h-2.5zM84.2 89.2h2.5v2.5h-2.5zM89.6 95.0h2.5v2.5h-2.5zM89.1 96.1h2.5v2.5h-2.5zM88.1 94.5h2.5v2.5h-2.5zM87.0 95.2h2.5v2.5h-2.5zM87.3 95.7h2.5v2.5h-2.5zM87.8 94.7h2.5v2.5h-2.5zM88.2 96.7h2.5v2.5h-2.5zM86.6 94.8h2.5v2.5h-2.5zM85.8 94.0h2.5v2.5h-2.5zM86.0 95.0h2.5v2.5h-2.5zM89.1 95.8h2.5v2.5h-2.5zM89.6 96.3h2.5v2.5h-2.5zM88.1 95.5h2.5v2.5h-2.5zM85.8 94.9h2.5v2.5h-2.5zM86.8 95.6h2.5v2.5h-2.5zM88.0 97.8h2.5v2.5h-2.5zM89.3 97.7h2.5v2.5h-2.5zM89.4 97.0h2.5v2.5h-2.5zM90.7 98.4h2.5v2.5h-2.5zM90.1 97.0h2.5v2.5h-2.5zM90.1 98.5h2.5v2.5h-2.5zM91.7 98.3h2.5v2.5h-2.5zM87.9 98.5h2.5v2.5h-2.5zM90.4 97.3h2.5v2.5h-2.5zM91.4 98.4h2.5v2.5h-2.5zM91.3 97.2h2.5v2.5h-2.5zM90.1 97.5h2.5v2.5h-2.5zM93.2 99.6h2.5v2.5h-2.5zM94.8 97.4h2.5v2.5h-2.5zM94.5 100.4h2.5v2.5h-2.5zM94.6 100.3h2.5v2.5h-2.5zM94.6 100.7h2.5v2.5h-2.5zM91.9 98.0h2.5v2.5h-2.5zM94.5 99.4h2.5v2.5h-2.5zM96.6 98.9h2.5v2.5h-2.5zM94.1 98.9h2.5v2.5h-2.5zM94.4 99.3h2.5v2.5h-2.5zM96.5 95.8h2.5v2.5h-2.5zM93.4 100.1h2.5v2.5h-2.5zM92.0 99.7h2.5v2.5h-2.5zM91.9 99.0h2.5v2.5h-2.5zM95.8 96.9h2.5v2.5h-2.5zM93.7 96.9h2.5v2.5h-2.5zM95.3 98.4h2.5v2.5h-2.5zM94.8 97.4h2.5v2.5h-2.5zM94.7 100.5h2.5v2.5h-2.5zM95.6 100.5h2.5v2.5h-2.5zM93.0 98.3h2.5v2.5h-2.5zM93.7 97.5h2.5v2.5h-2.5zM95.8 96.6h2.5v2.5h-2.5zM94.5 99.6h2.5v2.5h-2.5zM95.6 99.8h2.5v2.5h-2.5zM94.3 101.0h2.5v2.5h-2.5zM95.6 100.2h2.5v2.5h-2.5zM95.4 100.7h2.5v2.5h-2.5zM94.8 102.1h2.5v2.5h-2.5zM93.9 100.6h2.5v2.5h-2.5zM94.1 100.1h2.5v2.5h-2.5zM94.4 101.5h2.5v2.5h-2.5zM94.9 100.1h2.5v2.5h-2.5zM95.4 101.0h2.5v2.5h-2.5zM55.8 71.8h2.5v2.5h-2.5zM89.0 91.8h2.5v2.5h-2.5zM94.8 98.0h2.5v2.5h-2.5zM60.0 69.2h2.5v2.5h-2.5zM91.2 96.9h2.5v2.5h-2.5zM53.5 70.2h2.5v2.5h-2.5zM86.6 93.1h2.5v2.5h-2.5zM89.5 97.4h2.5v2.5h-2.5zM64.8 78.7h2.5v2.5h-2.5zM93.9 94.2h2.5v2.5h-2.5zM82.2 90.3h2.5v2.5h-2.5zM90.3 94.8h2.5v2.5h-2.5zM62.3 72.7h2.5v2.5h-2.5zM75.3 81.9h2.5v2.5h-2.5zM90.9 97.2h2.5v2.5h-2.5zM60.6 74.5h2.5v2.5h-2.5zM81.7 86.0h2.5v2.5h-2.5zM86.9 94.2h2.5v2.5h-2.5zM63.8 72.8h2.5v2.5h-2.5zM62.6 76.5h2.5v2.5h-2.5zM71.6 83.9h2.5v2.5h-2.5zM56.6 67.3h2.5v2.5h-2.5zM65.9 79.8h2.5v2.5h-2.5zM56.7 67.2h2.5v2.5h-2.5zM85.6 88.5h2.5v2.5h-2.5zM81.5 85.6h2.5v2.5h-2.5zM60.8 74.5h2.5v2.5h-2.5zM91.6 94.1h2.5v2.5h-2.5zM70.8 77.8h2.5v2.5h-2.5zM65.4 75.1h2.5v2.5h-2.5zM87.4 94.2h2.5v2.5h-2.5zM87.2 92.8h2.5v2.5h-2.5zM83.0 86.9h2.5v2.5h-2.5zM67.6 77.1h2.5v2.5h-2.5zM62.6 76.3h2.5v2.5h-2.5zM59.2 70.9h2.5v2.5h-2.5zM62.6 77.2h2.5v2.5h-2.5zM80.0 87.4h2.5v2.5h-2.5zM67.4 81.3h2.5v2.5h-2.5zM94.8 95.5h2.5v2.5h-2.5zM76.5 87.8h2.5v2.5h-2.5zM61.3 72.0h2.5v2.5h-2.5zM53.8 68.5h2.5v2.5h-2.5zM86.4 89.6h2.5v2.5h-2.5zM69.9 83.8h2.5v2.5h-2.5zM72.3 81.5h2.5v2.5h-2.5zM89.9 96.9h2.5v2.5h-2.5zM67.2 75.6h2.5v2.5h-2.5zM79.9 89.2h2.5v2.5h-2.5zM94.0 96.7h2.5v2.5h-2.5zM63.8 75.7h2.5v2.5h-2.5zM62.9 74.5h2.5v2.5h-2.5zM71.7 84.7h2.5v2.5h-2.5zM93.1 98.3h2.5v2.5h-2.5zM72.2 85.4h2.5v2.5h-2.5zM55.6 72.4h2.5v2.5h-2.5zM80.1 90.2h2.5v2.5h-2.5zM69.0 83.1h2.5v2.5h-2.5zM50.0 68.8h2.5v2.5h-2.5zM88.9 92.9h2.5v2.5h-2.5zM89.4 92.0h2.5v2.5h-2.5zM85.6 91.2h2.5v2.5h-2.5zM68.9 77.5h2.5v2.5h-2.5zM88.0 94.8h2.5v2.5h-2.5zM53.1 71.4h2.5v2.5h-2.5zM59.6 71.5h2.5v2.5h-2.5zM69.1 80.3h2.5v2.5h-2.5zM92.4 98.1h2.5v2.5h-2.5zM79.8 86.4h2.5v2.5h-2.5zM54.0 65.6h2.5v2.5h-2.5zM74.2 84.3h2.5v2.5h-2.5zM70.7 84.4h2.5v2.5h-2.5zM69.0 78.6h2.5v2.5h-2.5zM69.2 77.6h2.5v2.5h-2.5zM94.8 96.5h2.5v2.5h-2.5zM75.3 84.0h2.5v2.5h-2.5zM61.0 72.2h2.5v2.5h-2.5zM72.9 82.4h2.5v2.5h-2.5zM96.7 97.0h2.5v2.5h-2.5zM58.9 68.7h2.5v2.5h-2.5zM56.5 69.0h2.5v2.5h-2.5zM87.1 95.2h2.5v2.5h-2.5zM60.3 74.9h2.5v2.5h-2.5zM70.4 81.0h2.5v2.5h-2.5zM74.9 81.0h2.5v2.5h-2.5zM52.0 68.7h2.5v2.5h-2.5zM82.5 88.3h2.5v2.5h-2.5zM93.8 97.8h2.5v2.5h-2.5zM63.5 72.4h2.5v2.5h-2.5zM75.9 85.9h2.5v2.5h-2.5zM59.7 69.3h2.5v2.5h-2.5zM72.6 79.3h2.5v2.5h-2.5zM84.9 91.7h2.5v2.5h-2.5zM62.4 74.2h2.5v2.5h-2.5zM60.2 70.6h2.5v2.5h-2.5zM57.6 73.1h2.5v2.5h-2.5zM71.0 82.7h2.5v2.5h-2.5zM65.8 79.3h2.5v2.5h-2.5zM77.9 87.3h2.5v2.5h-2.5zM68.0 79.3h2.5v2.5h-2.5zM58.1 74.5h2.5v2.5h-2.5zM81.7 88.8h2.5v2.5h-2.5zM80.0 84.7h2.5v2.5h-2.5zM65.1 74.7h2.5v2.5h-2.5zM90.1 90.8h2.5v2.5h-2.5zM70.5 83.5h2.5v2.5h-2.5zM87.1 94.0h2.5v2.5h-2.5zM63.5 73.5h2.5v2.5h-2.5zM83.3 88.2h2.5v2.5h-2.5zM84.2 89.2h2.5v2.5h-2.5zM86.0 92.2h2.5v2.5h-2.5zM88.7 97.1h2.5v2.5h-2.5zM67.3 81.7h2.5v2.5h-2.5zM49.2 68.6h2.5v2.5h-2.5zM50.2 66.8h2.5v2.5h-2.5zM67.8 80.6h2.5v2.5h-2.5zM64.2 73.8h2.5v2.5h-2.5zM87.2 92.9h2.5v2.5h-2.5zM85.8 91.4h2.5v2.5h-2.5zM50.5 68.6h2.5v2.5h-2.5zM198.9 139.9h2.5v2.5h-2.5zM417.8 149.7h2.5v2.5h-2.5zM449.5 160.1h2.5v2.5h-2.5zM385.2 119.2h2.5v2.5h-2.5zM324.5 123.7h2.5v2.5h-2.5zM189.5 133.2h2.5v2.5h-2.5zM109.0 104.5h2.5v2.5h-2.5zM433.6 138.7h2.5v2.5h-2.5zM434.6 138.2h2.5v2.5h-2.5zM369.1 127.4h2.5v2.5h-2.5zM447.6 157.9h2.5v2.5h-2.5zM504.5 167.2h2.5v2.5h-2.5zM410.2 143.0h2.5v2.5h-2.5zM534.6 162.0h2.5v2.5h-2.5zM204.1 121.4h2.5v2.5h-2.5zM219.4 150.5h2.5v2.5h-2.5zM482.4 163.6h2.5v2.5h-2.5zM334.2 147.5h2.5v2.5h-2.5zM266.4 154.8h2.5v2.5h-2.5zM332.0 146.8h2.5v2.5h-2.5zM364.2 151.5h2.5v2.5h-2.5zM266.8 131.5h2.5v2.5h-2.5zM520.1 171.4h2.5v2.5h-2.5zM317.0 151.1h2.5v2.5h-2.5zM210.9 160.2h2.5v2.5h-2.5zM144.0 98.7h2.5v2.5h-2.5zM114.2 90.3h2.5v2.5h-2.5zM411.2 144.5h2.5v2.5h-2.5zM327.5 123.5h2.5v2.5h-2.5zM386.3 142.6h2.5v2.5h-2.5zM317.3 124.5h2.5v2.5h-2.5zM117.7 107.9h2.5v2.5h-2.5zM321.6 124.9h2.5v2.5h-2.5zM388.5 116.0h2.5v2.5h-2.5zM156.8 105.8h2.5v2.5h-2.5zM252.2 125.3h2.5v2.5h-2.5zM253.9 150.8h2.5v2.5h-2.5zM453.7 140.3h2.5v2.5h-2.5zM507.7 149.8h2.5v2.5h-2.5zM329.5 121.3h2.5v2.5h-2.5zM310.1 120.5h2.5v2.5h-2.5zM144.6 101.7h2.5v2.5h-2.5zM458.4 160.2h2.5v2.5h-2.5zM134.6 95.5h2.5v2.5h-2.5zM118.7 109.6h2.5v2.5h-2.5zM311.2 147.4h2.5v2.5h-2.5zM237.0 128.1h2.5v2.5h-2.5zM180.3 115.3h2.5v2.5h-2.5zM409.6 142.1h2.5v2.5h-2.5zM432.5 135.7h2.5v2.5h-2.5zM136.6 96.8h2.5v2.5h-2.5zM106.0 104.5h2.5v2.5h-2.5zM371.9 150.9h2.5v2.5h-2.5zM112.2 105.4h2.5v2.5h-2.5zM223.1 152.1h2.5v2.5h-2.5zM438.3 139.7h2.5v2.5h-2.5zM111.6 104.0h2.5v2.5h-2.5zM288.5 123.3h2.5v2.5h-2.5zM418.9 132.0h2.5v2.5h-2.5zM367.0 126.9h2.5v2.5h-2.5zM161.2 124.0h2.5v2.5h-2.5zM455.6 161.2h2.5v2.5h-2.5zM159.1 123.1h2.5v2.5h-2.5zM137.8 97.7h2.5v2.5h-2.5zM395.9 112.7h2.5v2.5h-2.5zM333.5 122.3h2.5v2.5h-2.5zM197.5 118.8h2.5v2.5h-2.5zM204.9 126.5h2.5v2.5h-2.5zM290.7 123.3h2.5v2.5h-2.5zM317.9 124.7h2.5v2.5h-2.5zM237.2 128.3h2.5v2.5h-2.5zM411.5 146.3h2.5v2.5h-2.5zM175.8 131.9h2.5v2.5h-2.5zM194.7 135.4h2.5v2.5h-2.5zM153.1 104.2h2.5v2.5h-2.5zM152.6 120.7h2.5v2.5h-2.5zM456.6 140.9h2.5v2.5h-2.5zM396.3 138.7h2.5v2.5h-2.5zM325.5 148.6h2.5v2.5h-2.5zM158.0 123.7h2.5v2.5h-2.5z" fill="#a7a7a7"/>
<path d="M35.0 63.5C36.2 63.7 39.8 64.3 42.0 64.8C44.2 65.3 45.8 65.5 48.4 66.6C51.0 67.7 54.4 69.5 57.4 71.5C60.4 73.5 63.3 76.0 66.3 78.3C69.3 80.6 72.2 83.2 75.3 85.4C78.4 87.6 82.5 90.0 85.0 91.7C87.5 93.4 87.5 94.3 90.0 95.5C92.5 96.7 96.7 98.2 100.0 99.0C103.3 99.8 106.7 99.7 110.0 100.0C113.3 100.3 116.7 100.3 120.0 101.0C123.3 101.7 126.7 102.8 130.0 104.0C133.3 105.2 136.7 106.8 140.0 108.0C143.3 109.2 146.0 109.2 150.0 111.0C154.0 112.8 159.0 116.5 164.0 119.0C169.0 121.5 175.3 124.7 180.0 126.0C184.7 127.3 190.0 126.5 192.0 126.6L202.0 127.0L205.0 134.0L210.0 149.6L218.0 143.0L226.0 139.0L242.0 141.6L250.0 139.6L260.0 143.0L274.0 146.4L282.0 138.4L290.0 137.0L299.0 131.6L306.0 130.6L314.0 137.0L322.0 141.0L330.0 135.6L338.0 139.6L345.0 137.2L354.0 141.6L360.0 142.0L369.0 140.4L377.0 142.0L385.0 133.0L392.0 130.4L401.0 126.4L409.0 130.4L417.0 140.0L425.0 145.6L432.0 147.0L442.0 149.6L452.0 151.6L460.0 153.0L472.0 156.4L486.0 155.4L496.0 159.6L504.0 156.4L513.0 162.0L520.0 161.6L528.0 166.0L536.0 171.6L552.0 173.6L559.6 171.0" fill="none" stroke="#e8582e" stroke-width="1.35"/>

<!-- precipitation -->
<polyline points="35,117.7 92.7,114.7 145,90.7 182.7,84.7 234.3,88.3 290.7,83.7 332,87.7 369,86 403.3,86.7 426.4,74 460.9,58.1 493.5,66.1 512.5,59 527.2,85.9 536.6,101.5 559.5,100.9" fill="none" stroke="#2f76ba" stroke-width="1.8"/>
<g fill="#3a80c8">
<circle cx="92.7" cy="114.7" r="4"/><circle cx="145" cy="90.7" r="4"/><circle cx="182.7" cy="84.7" r="4"/><circle cx="234.3" cy="88.3" r="4"/><circle cx="290.7" cy="83.7" r="4"/><circle cx="332" cy="87.7" r="4"/><circle cx="369" cy="86" r="4"/><circle cx="403.3" cy="86.7" r="4"/><circle cx="426.4" cy="74" r="4"/><circle cx="460.9" cy="58.1" r="4"/><circle cx="493.5" cy="66.1" r="4"/><circle cx="512.5" cy="59" r="4"/><circle cx="527.2" cy="85.9" r="4"/><circle cx="536.6" cy="101.5" r="4"/><circle cx="559.5" cy="100.9" r="4"/>
</g>

<!-- top labels -->
<g font-size="10.5" fill="#2a2a2a" stroke="#2a2a2a" stroke-width="0.2">
<text x="299.5" y="25.6" text-anchor="middle">Crustal shortening</text>
<text x="299.8" y="40.8" text-anchor="middle">surface uplift</text>
<text x="469" y="25.2" text-anchor="middle">Monsoon</text>
<text x="468.5" y="40.2" text-anchor="middle">intensification</text>
</g>
<g stroke="#222" stroke-width="1" fill="#222">
<line x1="246" y1="28.4" x2="255" y2="28.4"/><path d="M243.2 28.4l3.5 -1.8v3.6z" stroke="none"/>
<line x1="347.2" y1="28.4" x2="356" y2="28.4"/><path d="M359 28.4l-3.5 -1.8v3.6z" stroke="none"/>
<line x1="430" y1="28.5" x2="438.8" y2="28.5"/><path d="M427 28.5l3.5 -1.8v3.6z" stroke="none"/>
<line x1="500.3" y1="28.5" x2="509" y2="28.5"/><path d="M512 28.5l-3.5 -1.8v3.6z" stroke="none"/>
</g>

<!-- dendrogram labels -->
<g font-size="10.5" fill="#2a2a2a" stroke="#2a2a2a" stroke-width="0.2">
<text x="238.8" y="204.5"><tspan font-style="italic">in situ</tspan> speciation emerged</text>
<text x="417.8" y="204.3"><tspan font-style="italic">in situ</tspan> speciation burst</text>
</g>

<!-- dendrograms -->
<g fill="none" stroke="url(#gd)" stroke-width="1.6">
<path d="M308 214.5V223M257.5 236V223H359V260M228.8 277V235.8H287V277"/>
<path d="M480 214.8V223M443 230.3V223H522.6V230.3M418.7 242.5V230.3H467.8V242.5M406.9 255V242.5H431.1V255.6M400.5 270V255H413.2V270M424.3 274V255.6H437.4V279M455.6 265.4V242.5H479.8V258.8M449.3 276V265.4H462.3V270M473.8 274V258.8H486.5V274M504.6 246.8V230H540.7V252.6M498 266V246.8H511.3V255M534 275V252.6H547.6V275"/>
</g>

<!-- legend -->
<g font-size="10.5" fill="#2a2a2a" stroke="#2a2a2a" stroke-width="0.22">
<text x="69" y="254.5">Elevation proxies</text>
<text x="69" y="275.8">CLAMP (moist enthalpy)</text>
<text x="69" y="296.3">Clumped istopes</text>
</g>
<use href="#leaf" x="50.2" y="266.2"/>
<path d="M57.1 285L64.2 297.5H50z" fill="#777"/>

<!-- mountains -->
<path d="M45.8 403.0C46.8 402.2 49.4 399.7 51.6 398.2C53.8 396.7 56.7 394.8 58.9 393.8C61.1 392.8 63.0 392.8 64.7 392.4C66.4 392.0 67.8 391.7 69.1 391.2C70.4 390.7 71.5 390.4 72.7 389.5C73.9 388.6 75.1 387.4 76.4 385.8C77.7 384.2 78.8 381.9 80.7 380.0C82.6 378.1 85.1 376.3 88.0 374.2C90.9 372.1 95.5 369.4 98.2 367.6C100.9 365.8 101.6 364.5 104.0 363.3C106.4 362.1 110.5 361.2 112.7 360.4C114.9 359.5 115.8 359.1 117.1 358.2C118.4 357.3 118.4 356.1 120.5 355.0C122.6 353.9 126.4 352.5 129.7 351.7C132.9 350.9 137.1 350.7 140.0 350.3C142.9 349.9 144.6 349.5 147.0 349.3C149.4 349.1 152.1 349.0 154.3 349.3C156.6 349.6 158.7 350.2 160.5 351.0C162.3 351.8 163.6 352.6 165.0 354.0C166.4 355.4 167.8 357.4 169.0 359.5C170.2 361.6 171.3 364.0 172.5 366.5C173.7 369.0 174.9 371.6 176.0 374.5C177.1 377.4 177.9 380.6 179.0 383.7C180.1 386.8 181.3 389.8 182.5 393.0C183.7 396.2 185.8 401.3 186.4 403.0Z" fill="url(#gm1)" stroke="#a3afbf" stroke-width="0.5" stroke-opacity="0.7"/>
<path d="M200.3 403.0C201.2 400.3 203.8 391.8 205.6 386.6C207.4 381.4 209.2 377.0 211.0 371.7C212.8 366.4 214.7 359.5 216.3 354.7C217.9 349.9 219.1 345.7 220.5 343.0C221.9 340.3 223.2 339.7 224.8 338.7C226.4 337.7 228.5 337.9 230.1 337.2C231.7 336.5 233.0 336.0 234.4 334.5C235.8 333.0 237.2 330.3 238.6 328.0C240.0 325.7 241.8 322.1 242.9 320.6C244.0 319.1 244.1 318.4 245.0 318.9C245.9 319.4 247.1 321.4 248.2 323.8C249.3 326.2 250.3 330.0 251.4 333.4C252.5 336.8 253.7 341.3 254.6 344.0C255.5 346.7 256.0 349.7 256.7 349.4C257.4 349.1 258.0 344.5 258.9 342.3C259.8 340.1 260.8 337.4 262.0 336.0C263.2 334.6 264.7 333.7 266.0 333.6C267.3 333.6 268.6 335.0 269.9 335.7C271.2 336.4 272.4 337.2 273.8 337.6C275.2 338.0 276.9 337.9 278.5 338.0C280.1 338.1 281.8 338.9 283.2 338.3C284.6 337.7 285.9 335.3 287.1 334.4C288.3 333.4 289.3 332.5 290.2 332.6C291.1 332.7 292.0 333.3 292.6 335.2C293.2 337.1 293.5 340.5 294.1 343.8C294.8 347.1 295.7 351.9 296.5 354.8C297.3 357.7 298.2 362.1 299.1 361.3C300.0 360.5 301.0 354.3 302.0 350.1C303.0 345.9 303.9 340.7 305.1 336.0C306.3 331.3 307.8 325.7 309.0 321.9C310.2 318.1 311.4 313.3 312.6 313.3C313.8 313.3 314.9 317.8 316.0 321.9C317.1 325.9 318.1 332.7 319.2 337.6C320.2 342.6 321.0 347.7 322.3 351.6C323.6 355.5 325.4 358.4 327.0 361.0C328.6 363.6 329.8 364.7 331.7 367.3C333.6 369.9 336.6 374.9 338.7 376.7C340.8 378.5 342.2 377.4 344.0 378.0C345.8 378.6 347.6 379.1 349.3 380.0C351.0 380.9 352.4 381.9 354.0 383.3C355.6 384.8 357.2 386.9 358.7 388.7C360.1 390.5 361.1 392.4 362.7 394.0C364.2 395.6 366.2 396.9 368.0 398.0C369.8 399.1 371.5 399.9 373.3 400.7C375.1 401.5 377.4 402.3 378.7 402.7C380.0 403.1 380.6 402.9 381.0 403.0Z" fill="url(#gm2)" stroke="#a3afbf" stroke-width="0.5" stroke-opacity="0.7"/>
<path d="M395.6 403.0C396.2 400.7 397.8 394.2 399.0 389.0C400.2 383.8 401.7 377.7 403.0 372.0C404.3 366.3 405.7 360.3 407.0 355.0C408.3 349.7 409.9 343.9 411.0 340.0C412.1 336.1 412.7 334.2 413.7 331.3C414.7 328.4 415.5 324.9 416.9 322.8C418.3 320.7 420.6 319.9 422.2 318.5C423.8 317.1 425.4 316.3 426.5 314.3C427.6 312.3 428.2 309.7 428.9 306.5C429.6 303.3 430.0 298.2 430.5 295.0C431.0 291.8 431.5 289.0 432.0 287.5C432.5 286.0 433.0 285.4 433.6 285.8C434.2 286.2 434.9 287.3 435.5 290.0C436.1 292.7 436.9 297.0 437.5 302.0C438.1 307.0 438.7 312.8 439.3 320.0C439.9 327.2 440.7 338.3 441.3 345.0C441.9 351.7 442.4 356.5 443.0 360.0C443.6 363.5 444.2 366.2 444.9 366.0C445.6 365.8 446.4 364.2 447.1 358.9C447.8 353.6 448.7 340.7 449.3 334.1C449.9 327.6 450.2 324.0 450.8 319.6C451.4 315.2 452.3 310.8 452.9 307.9C453.5 305.0 453.9 302.5 454.5 302.2C455.1 301.9 455.8 303.7 456.5 306.0C457.2 308.3 457.9 313.0 458.5 316.0C459.1 319.0 459.1 323.2 460.2 323.9C461.3 324.6 463.5 320.1 465.3 320.3C467.1 320.6 469.3 325.9 471.1 325.4C472.9 324.9 475.0 318.1 476.2 317.4C477.4 316.7 477.8 318.7 478.4 321.0C479.0 323.3 479.4 325.7 480.0 331.0C480.6 336.3 481.3 346.6 482.2 352.8C483.1 359.1 484.2 369.8 485.1 368.5C486.0 367.2 486.8 352.1 487.5 345.0C488.2 337.9 488.8 330.2 489.5 326.0C490.2 321.8 490.8 320.1 491.5 320.0C492.2 319.9 492.9 325.9 493.8 325.5C494.7 325.1 495.8 322.0 496.8 317.8C497.8 313.6 498.9 305.7 499.7 300.4C500.5 295.1 500.9 290.6 501.5 286.0C502.1 281.4 502.6 275.9 503.0 273.0C503.4 270.1 503.8 268.7 504.2 268.7C504.6 268.7 505.0 270.3 505.5 273.0C506.0 275.7 506.5 280.9 507.0 285.0C507.5 289.1 507.9 293.0 508.4 297.5C508.9 302.0 509.5 306.7 510.0 312.0C510.5 317.3 510.6 322.9 511.3 329.5C512.0 336.1 513.0 346.2 514.2 351.3C515.4 356.4 517.1 357.4 518.6 360.0C520.1 362.6 521.8 365.4 523.2 366.6C524.7 367.8 525.7 366.4 527.3 367.3C528.9 368.2 531.2 371.1 532.7 372.3C534.2 373.5 534.9 373.5 536.0 374.6C537.1 375.7 538.4 377.3 539.4 379.0C540.4 380.7 541.3 383.6 541.9 384.8C542.5 386.1 542.5 385.3 543.2 386.5C543.9 387.7 545.0 390.0 546.0 392.2C547.0 394.4 548.3 398.0 548.9 399.8C549.5 401.6 549.6 402.5 549.8 403.0Z" fill="url(#gm3)" stroke="#a3afbf" stroke-width="0.5" stroke-opacity="0.7"/>

<!-- elevation curve -->
<path d="M35.3 384.5C36.8 383.0 38.8 378.5 44.4 375.6C50.0 372.7 62.6 369.5 69.1 367.0C75.6 364.5 78.8 363.0 83.6 360.4C88.4 357.8 93.8 354.0 98.2 351.6C102.6 349.2 106.2 347.7 109.8 345.8C113.4 343.9 116.6 341.9 120.0 340.0C123.4 338.1 126.3 336.2 130.0 334.2C133.7 332.2 138.3 329.3 142.0 327.8C145.7 326.3 148.5 325.8 152.0 325.0C155.5 324.2 159.2 323.7 163.0 323.1C166.8 322.5 171.3 321.8 175.0 321.3C178.7 320.8 180.8 320.5 185.0 320.2C189.2 319.9 190.0 320.1 200.0 319.6C210.0 319.1 233.3 317.9 245.0 317.3C256.7 316.8 255.8 316.8 270.0 316.3C284.2 315.8 308.3 315.0 330.0 314.2C351.7 313.4 383.3 312.0 400.0 311.3C416.7 310.6 415.0 310.6 430.0 309.8C445.0 309.0 468.3 307.6 490.0 306.7C511.7 305.8 548.3 304.5 560.0 304.1" fill="none" stroke="#555" stroke-width="1.6"/>

<!-- proxy markers -->
<g fill="#6d6d6d">
<path d="M42.5 372.7L49.7 386.2H35.3z"/>
<path d="M148.5 315.3L154.6 327.8H142.3z"/>
<path d="M158 317.7L165 331.5H151z"/>
<path d="M168.3 315.2L175.6 328.3H160.8z"/>
<path d="M192.8 317.5L199.7 329.7H186z"/>
</g>
<g>
<use href="#leaf" x="100.3" y="340.8"/>
<use href="#leaf" x="119.4" y="330.3"/>
<use href="#leaf" x="187" y="313"/>
</g>

<!-- arrows -->
<path d="M41.5 370.5C53 369.5 63 373 72 381.5" fill="none" stroke="url(#ga1)" stroke-width="2"/>
<path d="M80 388.7L68.6 385.6 76.2 378.6Z" fill="#3d72cf"/>
<path d="M189 384.5C193 380.5 199 379.6 206 381.8L204 386.5Z" fill="url(#ga2)"/>
<path d="M189 384.5C193 381.5 199 380 205.5 382.2" fill="none" stroke="url(#ga2)" stroke-width="4"/>
<path d="M215.6 385.8L207 377.9 204 386.5Z" fill="#3d72cf"/>
<path d="M371 373.5C381 371.5 390 373 398 377.5L395 382C388 378.5 379 377.5 371 379.5Z" fill="url(#ga3)"/>
<path d="M408.6 386.6L399.3 373.8 393.4 383.7Z" fill="#3d72cf"/>
<path d="M385 389.5C377 388.5 370 389 364 391.5L365.5 394C372 392 378 391.5 385 392.5Z" fill="url(#ga4)"/>
<path d="M354.3 396.5L362.5 387.2 366.6 393.6Z" fill="#3d72cf"/>
<path d="M557.4 376.5C553 371.5 546 369 536.8 368.4L530.5 368.5 532 375.5 536.8 373.8C545 374 551 376.5 555.6 381Z" fill="url(#ga5)"/>
<path d="M517.2 375.6L529.2 365.7 532.4 376.5Z" fill="#3d72cf"/>

<!-- animals -->
<use href="#star" x="236.4" y="345.7" fill="#3fa845" stroke="#3fa845"/>
<use href="#star" x="313.2" y="336.3" fill="#5aaee0" stroke="#5aaee0"/>
<use href="#star" x="275.3" y="367.3" fill="#ef8a4a" stroke="#ef8a4a"/>
<use href="#star" transform="translate(421.9 330.9) scale(0.68)" fill="#3fa845" stroke="#3fa845"/>
<use href="#star" transform="translate(434.5 317.4) scale(0.65)" fill="#3fa845" stroke="#3fa845"/>
<use href="#star" transform="translate(454.4 323.2) scale(0.65)" fill="#e08a50" stroke="#e08a50"/>
<use href="#star" transform="translate(469.7 358.9) scale(0.82)" fill="#f08a5a" stroke="#f08a5a"/>
<use href="#star" transform="translate(503.9 300.3) scale(0.65)" fill="#5a9ec8" stroke="#5a9ec8"/>
<use href="#star" transform="translate(504.5 327.8) scale(0.75)" fill="#5ab0e0" stroke="#5ab0e0"/>
<g fill="#fff" opacity="0.55"><circle cx="236.4" cy="346" r="1.1"/><circle cx="313.2" cy="336.6" r="1.1"/><circle cx="275.3" cy="367.6" r="1.1"/></g>
<use href="#frog" transform="translate(234.5 385.5) scale(1.17 1.2)" fill="#eab4a0"/>
<use href="#frog" x="304.8" y="369.5" fill="#3a75b0"/>
<use href="#frog" transform="translate(418 351) scale(1.12 1.0)" fill="#eab4a0"/>
<use href="#frog" transform="translate(458 342) scale(0.75)" fill="#8ab8a8"/>
<use href="#frog" x="497" y="358.5" fill="#3a75b0"/>
<!-- lizards -->
<path d="M446.3 366.1C441 367 438.5 370 441 373.5C444 377 450 379 452.3 384.2C453.5 388 451 391 449.3 392.3C446.5 394.5 443.5 396 441.3 397.3" fill="none" stroke="#3a6ab8" stroke-width="1.1"/>
<path d="M484.3 370.4C481 372.5 480 375 482.5 377.5C485 380 486 383.5 481.4 388.4" fill="none" stroke="#3a6ab8" stroke-width="1.1"/>
<path d="M417 378.2C412.5 378 410.5 375.5 413 373C415 371.2 418.5 370.8 422 371.1" fill="none" stroke="#3d4a5c" stroke-width="0.8"/>
<use href="#liz" transform="translate(417 378.2) rotate(-12)" fill="#3d4a5c" stroke="#3d4a5c"/>
<path d="M434.2 391.8C430.5 391.5 429.5 388.5 432.5 387.2" fill="none" stroke="#e8a820" stroke-width="0.8"/>
<use href="#liz" transform="translate(434.2 391.8) rotate(-12) scale(0.78)" fill="#e8a820" stroke="#e8a820"/>
<path d="M449.3 376.7C446.5 376.5 446.5 373.5 449.5 372.5" fill="none" stroke="#2a80c8" stroke-width="0.7"/>
<use href="#liz" transform="translate(449.3 376.7) rotate(-6) scale(0.8)" fill="#2a80c8" stroke="#2a80c8"/>
<use href="#liz" transform="translate(434.8 367) rotate(-12) scale(0.45)" fill="#d0602e" stroke="#d0602e"/>
<path d="M432.2 374.1L434.6 370.9M435.2 377.2H442M432.7 380.7L435.8 383.4" stroke="#555" stroke-width="0.7"/><path d="M435.2 370.1l-0.3 1.9-1.4-1zM443.3 377.2l-1.7 0.9v-1.8zM436.7 384.2l-1.8-0.4 1.1-1.3z" fill="#555"/>

<!-- colonization -->
<g font-size="7.6" fill="#222" stroke="#222" stroke-width="0.18">
<text x="38" y="362.8" textLength="34.1" lengthAdjust="spacingAndGlyphs">Colonization</text>
<text x="175" y="370.1" textLength="34" lengthAdjust="spacingAndGlyphs">Colonization</text>
<text x="364.7" y="364.2" textLength="34" lengthAdjust="spacingAndGlyphs">Colonization</text>
</g>

<!-- timescale -->
<g>
<rect x="35.3" y="403.3" width="168.9" height="14.2" fill="#646464"/>
<rect x="204.2" y="403.3" width="114.5" height="14.2" fill="#fff"/>
<rect x="318.7" y="403.3" width="185.3" height="14.2" fill="#646464"/>
<rect x="504" y="403.3" width="29.3" height="14.2" fill="#fff"/>
<rect x="533.3" y="403.3" width="26.2" height="14.2" fill="#646464"/>
<path d="M35.3 403.6H559.5M35.3 417.5H559.5M204.2 403.6V417.5M318.7 403.6V417.5M504 403.6V417.5M533.3 403.6V417.5" stroke="#333" stroke-width="1"/>
</g>
<g font-size="10.5" text-anchor="middle" stroke-width="0.15">
<text x="119.5" y="414.5" fill="#eee" stroke="#eee">Eocene</text>
<text x="261.3" y="414.5" fill="#222" stroke="#222">Oligocene</text>
<text x="411" y="414.5" fill="#eee" stroke="#eee">Miocene</text>
<text x="518.7" y="414.5" fill="#222" stroke="#222">Pli.</text>
<text x="546.2" y="414.5" fill="#eee" stroke="#eee">Q.</text>
</g>

<!-- axes -->
<path d="M35 0.6H560" stroke="#333" stroke-width="1.2"/>
<path d="M35.3 0V25M35.3 184V418" stroke="#555" stroke-width="1.2"/>
<path d="M35.3 25V184M30 78.2H35.3M30 126.5H35.3M30 175H35.3" stroke="#e8504a" stroke-width="1.2"/>
<path d="M559.7 0V32.4M559.7 163V418M559.7 284.8H565M559.7 324.2H565M559.7 364.8H565M559.7 403.3H565" stroke="#555" stroke-width="1.2"/>
<path d="M559.7 32.4V163M559.7 32.4H565M559.7 66H565M559.7 100.3H565M559.7 133.9H565" stroke="#3a7cc0" stroke-width="1.2"/>
<path d="M35.3 418V422.4M140 418V422.4M245 418V422.4M350 418V422.4M454.5 418V422.4M559.5 418V422.4" stroke="#333" stroke-width="1.2"/>

<g font-size="10.5" fill="#e8504a" stroke="#e8504a" stroke-width="0.15" text-anchor="end">
<text x="26.5" y="81.9">10</text>
<text x="26.5" y="130.2">5</text>
<text x="26.5" y="178.7">0</text>
</g>
<g font-size="10.5" fill="#2a5fa8" stroke="#2a5fa8" stroke-width="0.15">
<text x="567.5" y="36.2">2.5</text>
<text x="567.5" y="69.8">2.0</text>
<text x="567.5" y="104.1">1.5</text>
<text x="567.5" y="137.7">1.0</text>
</g>
<g font-size="10.5" fill="#222" stroke="#222" stroke-width="0.2">
<text x="569.5" y="288.6">6</text>
<text x="569.5" y="328">4</text>
<text x="569.5" y="368.6">2</text>
<text x="569.5" y="407.1">0</text>
</g>
<g font-size="10.5" fill="#222" stroke="#222" stroke-width="0.25" text-anchor="middle">
<text x="35.3" y="433.6">50</text>
<text x="140" y="433.6">40</text>
<text x="245" y="433.6">30</text>
<text x="350" y="433.6">20</text>
<text x="454.5" y="433.6">10</text>
<text x="559.5" y="433.6">0</text>
</g>
<text x="274.2" y="443" font-size="10.5" fill="#222" stroke="#222" stroke-width="0.2">Time (Ma)</text>

<text transform="translate(11.5,198) rotate(-90)" font-size="11" fill="#e8504a" stroke="#e8504a" stroke-width="0.12">Deep ocean temperature (°C)</text>
<text transform="translate(596,132) rotate(-90)" font-size="11" fill="#2a5fa8" stroke="#2a5fa8" stroke-width="0.12">Precipitation (m/year)</text>
<text transform="translate(597,376.7) rotate(-90)" font-size="11" fill="#222" stroke="#222" stroke-width="0.15">Elevation (km)</text>

</svg>
</body></html>
